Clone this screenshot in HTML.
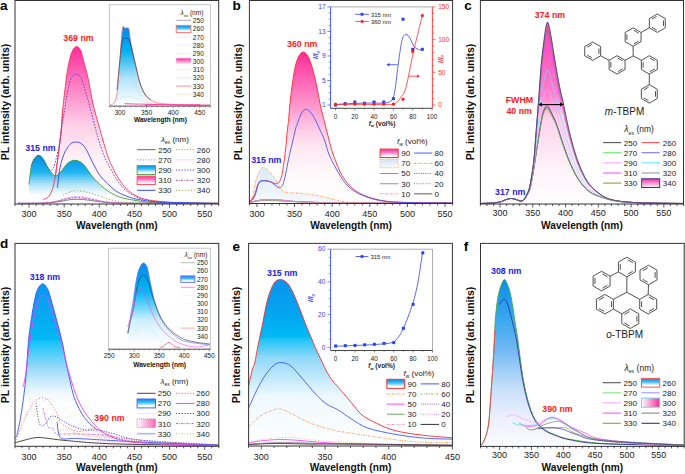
<!DOCTYPE html>
<html><head><meta charset="utf-8"><style>
html,body{margin:0;padding:0;background:#fff;width:685px;height:474px;overflow:hidden}
svg{display:block}
</style></head><body>
<svg width="685" height="474" viewBox="0 0 685 474">
<defs><linearGradient id="g1" x1="0" y1="46.6" x2="0" y2="204" gradientUnits="userSpaceOnUse"><stop offset="0" stop-color="#ff2d9b"/><stop offset="0.3" stop-color="#ff90cc"/><stop offset="0.5" stop-color="#ffd0e8"/><stop offset="0.7" stop-color="#fff0f7"/><stop offset="1" stop-color="#ffffff"/></linearGradient><linearGradient id="g2" x1="0" y1="155.3" x2="0" y2="204" gradientUnits="userSpaceOnUse"><stop offset="0" stop-color="#0090e6"/><stop offset="0.35" stop-color="#20b4f0"/><stop offset="0.58" stop-color="#a8e0f8"/><stop offset="0.82" stop-color="#ffffff"/><stop offset="1" stop-color="#ffffff"/></linearGradient><linearGradient id="g3" x1="0" y1="0" x2="0" y2="1"><stop offset="0" stop-color="#0090e6"/><stop offset="0.4" stop-color="#40c0f4"/><stop offset="0.8" stop-color="#ffffff"/></linearGradient><linearGradient id="g4" x1="0" y1="0" x2="0" y2="1"><stop offset="0" stop-color="#ff2d9b"/><stop offset="0.4" stop-color="#ff80c4"/><stop offset="0.85" stop-color="#ffffff"/></linearGradient><linearGradient id="g5" x1="0" y1="27" x2="0" y2="105.5" gradientUnits="userSpaceOnUse"><stop offset="0" stop-color="#0088f0"/><stop offset="0.3" stop-color="#00b0f0"/><stop offset="0.65" stop-color="#b0e4fa"/><stop offset="1" stop-color="#ffffff"/></linearGradient><linearGradient id="g6" x1="0" y1="0" x2="0" y2="1"><stop offset="0" stop-color="#0090e6"/><stop offset="0.4" stop-color="#40c0f4"/><stop offset="0.75" stop-color="#ffffff"/></linearGradient><linearGradient id="g7" x1="0" y1="0" x2="0" y2="1"><stop offset="0" stop-color="#ff2d9b"/><stop offset="0.5" stop-color="#ff90cc"/><stop offset="1" stop-color="#ffffff"/></linearGradient><linearGradient id="g8" x1="0" y1="52" x2="0" y2="203.5" gradientUnits="userSpaceOnUse"><stop offset="0" stop-color="#ff2d9b"/><stop offset="0.38" stop-color="#ff9fd0"/><stop offset="0.5" stop-color="#ffc8e4"/><stop offset="0.62" stop-color="#ffe6f2"/><stop offset="0.8" stop-color="#fff8fb"/><stop offset="1" stop-color="#ffffff"/></linearGradient><linearGradient id="g9" x1="0" y1="168" x2="0" y2="203" gradientUnits="userSpaceOnUse"><stop offset="0" stop-color="#dceaf8"/><stop offset="1" stop-color="#f6f9fd"/></linearGradient><linearGradient id="g10" x1="0" y1="0" x2="0" y2="1"><stop offset="0" stop-color="#ff2d9b"/><stop offset="0.4" stop-color="#ff80c4"/><stop offset="0.85" stop-color="#ffffff"/></linearGradient><linearGradient id="g11" x1="0" y1="0" x2="0" y2="1"><stop offset="0" stop-color="#d0e2f5"/><stop offset="1" stop-color="#f8fbff"/></linearGradient><linearGradient id="g12" x1="0" y1="22" x2="0" y2="204" gradientUnits="userSpaceOnUse"><stop offset="0" stop-color="#ff3cb4"/><stop offset="0.4" stop-color="#ff80d0"/><stop offset="0.52" stop-color="#ffd0ec"/><stop offset="0.78" stop-color="#fff0f8"/><stop offset="1" stop-color="#ffffff"/></linearGradient><linearGradient id="g13" x1="0" y1="0" x2="0" y2="1"><stop offset="0" stop-color="#ff2d9b"/><stop offset="0.4" stop-color="#ff80c4"/><stop offset="1" stop-color="#ffffff"/></linearGradient><linearGradient id="g14" x1="0" y1="283.8" x2="0" y2="446" gradientUnits="userSpaceOnUse"><stop offset="0" stop-color="#0a96ee"/><stop offset="0.34" stop-color="#00b8f4"/><stop offset="0.36" stop-color="#18c4f8"/><stop offset="0.53" stop-color="#a0dcf8"/><stop offset="0.67" stop-color="#eef8ff"/><stop offset="0.74" stop-color="#ffffff"/><stop offset="1" stop-color="#ffffff"/></linearGradient><linearGradient id="g15" x1="0" y1="0" x2="1" y2="0"><stop offset="0" stop-color="#ffffff"/><stop offset="1" stop-color="#ffc8e6"/></linearGradient><linearGradient id="g16" x1="0" y1="0" x2="0" y2="1"><stop offset="0" stop-color="#0a88e8"/><stop offset="0.4" stop-color="#40c0f4"/><stop offset="0.78" stop-color="#ffffff"/></linearGradient><linearGradient id="g17" x1="0" y1="0" x2="1" y2="0"><stop offset="0" stop-color="#ffffff"/><stop offset="1" stop-color="#ff66bb"/></linearGradient><linearGradient id="g18" x1="0" y1="263" x2="0" y2="345" gradientUnits="userSpaceOnUse"><stop offset="0" stop-color="#0a88e8"/><stop offset="0.35" stop-color="#00b8f5"/><stop offset="0.7" stop-color="#d0effc"/><stop offset="1" stop-color="#ffffff"/></linearGradient><linearGradient id="g19" x1="0" y1="0" x2="0" y2="1"><stop offset="0" stop-color="#0a88e8"/><stop offset="0.4" stop-color="#40c0f4"/><stop offset="0.78" stop-color="#ffffff"/></linearGradient><linearGradient id="g20" x1="0" y1="279.5" x2="0" y2="446" gradientUnits="userSpaceOnUse"><stop offset="0" stop-color="#0a94ec"/><stop offset="0.2" stop-color="#04a4f0"/><stop offset="0.34" stop-color="#00b8f4"/><stop offset="0.36" stop-color="#20c4f8"/><stop offset="0.47" stop-color="#90d8f8"/><stop offset="0.7" stop-color="#eef8ff"/><stop offset="1" stop-color="#ffffff"/></linearGradient><linearGradient id="g21" x1="0" y1="0" x2="0" y2="1"><stop offset="0" stop-color="#0a88e8"/><stop offset="0.4" stop-color="#40c0f4"/><stop offset="0.78" stop-color="#ffffff"/></linearGradient><linearGradient id="g22" x1="0" y1="279.4" x2="0" y2="446" gradientUnits="userSpaceOnUse"><stop offset="0" stop-color="#0a8ee8"/><stop offset="0.24" stop-color="#3aa8f0"/><stop offset="0.42" stop-color="#70b8f2"/><stop offset="0.66" stop-color="#c8e0fa"/><stop offset="0.84" stop-color="#eef0ff"/><stop offset="1" stop-color="#fafaff"/></linearGradient><linearGradient id="g23" x1="0" y1="0" x2="0" y2="1"><stop offset="0" stop-color="#0a88e8"/><stop offset="0.4" stop-color="#40c0f4"/><stop offset="0.78" stop-color="#ffffff"/></linearGradient><linearGradient id="g24" x1="0" y1="0" x2="1" y2="0"><stop offset="0" stop-color="#ffffff"/><stop offset="1" stop-color="#ff2d9b"/></linearGradient></defs>
<path d="M43.2 199.6 C44.12 199.08 47.12 198.35 48.7 196.5 C50.28 194.65 51.63 191.67 52.7 188.5 C53.77 185.33 54.32 181.98 55.1 177.5 C55.88 173.02 56.62 167.4 57.4 161.6 C58.18 155.8 59.12 148.47 59.8 142.7 C60.48 136.93 61.02 132.45 61.5 127 C61.98 121.55 62.33 114.48 62.7 110 C63.07 105.52 63.27 104.03 63.7 100.1 C64.13 96.17 64.77 90.8 65.3 86.4 C65.83 82 66.2 78.1 66.9 73.7 C67.6 69.3 68.57 63.87 69.5 60 C70.43 56.13 71.32 52.73 72.5 50.5 C73.68 48.27 75.27 46.68 76.6 46.6 C77.93 46.52 79.37 47.77 80.5 50 C81.63 52.23 82.03 54.82 83.4 60 C84.77 65.18 87.07 73.6 88.7 81.1 C90.33 88.6 91.28 96.8 93.2 105 C95.12 113.2 97.83 121.97 100.2 130.3 C102.57 138.63 105.32 148.77 107.4 155 C109.48 161.23 110.77 163.65 112.7 167.7 C114.63 171.75 116.72 175.78 119 179.3 C121.28 182.82 123.77 186.17 126.4 188.8 C129.03 191.43 131.63 193.35 134.8 195.1 C137.97 196.85 141.2 198.25 145.4 199.3 C149.6 200.35 154.23 200.78 160 201.4 C165.77 202.02 170.25 202.65 180 203 C189.75 203.35 212.08 203.42 218.5 203.5 L218.5 204 L43.2 204 Z" fill="url(#g1)" stroke="none"/>
<path d="M43.2 199.6 C44.12 199.08 47.12 198.35 48.7 196.5 C50.28 194.65 51.63 191.67 52.7 188.5 C53.77 185.33 54.32 181.98 55.1 177.5 C55.88 173.02 56.62 167.4 57.4 161.6 C58.18 155.8 59.12 148.47 59.8 142.7 C60.48 136.93 61.02 132.45 61.5 127 C61.98 121.55 62.33 114.48 62.7 110 C63.07 105.52 63.27 104.03 63.7 100.1 C64.13 96.17 64.77 90.8 65.3 86.4 C65.83 82 66.2 78.1 66.9 73.7 C67.6 69.3 68.57 63.87 69.5 60 C70.43 56.13 71.32 52.73 72.5 50.5 C73.68 48.27 75.27 46.68 76.6 46.6 C77.93 46.52 79.37 47.77 80.5 50 C81.63 52.23 82.03 54.82 83.4 60 C84.77 65.18 87.07 73.6 88.7 81.1 C90.33 88.6 91.28 96.8 93.2 105 C95.12 113.2 97.83 121.97 100.2 130.3 C102.57 138.63 105.32 148.77 107.4 155 C109.48 161.23 110.77 163.65 112.7 167.7 C114.63 171.75 116.72 175.78 119 179.3 C121.28 182.82 123.77 186.17 126.4 188.8 C129.03 191.43 131.63 193.35 134.8 195.1 C137.97 196.85 141.2 198.25 145.4 199.3 C149.6 200.35 154.23 200.78 160 201.4 C165.77 202.02 170.25 202.65 180 203 C189.75 203.35 212.08 203.42 218.5 203.5" fill="none" stroke="#ff3355" stroke-width="0.9"/>
<path d="M29 184.6 C29.38 181.57 30.38 170.75 31.3 166.4 C32.22 162.05 33.18 160.35 34.5 158.5 C35.82 156.65 37.62 155.05 39.2 155.3 C40.78 155.55 42.42 157.75 44 160 C45.58 162.25 46.85 166.15 48.7 168.8 C50.55 171.45 52.98 175.52 55.1 175.9 C57.22 176.28 59.3 173.22 61.4 171.1 C63.5 168.98 65.4 165 67.7 163.2 C70 161.4 72.58 160.12 75.2 160.3 C77.82 160.48 80.48 161.5 83.4 164.3 C86.32 167.1 89.93 173.73 92.7 177.1 C95.47 180.47 97.73 182.38 100 184.5 C102.27 186.62 103.67 187.95 106.3 189.8 C108.93 191.65 112.45 194.1 115.8 195.6 C119.15 197.1 122 197.83 126.4 198.8 C130.8 199.77 136.6 200.73 142.2 201.4 C147.8 202.07 147.28 202.45 160 202.8 C172.72 203.15 208.75 203.38 218.5 203.5 L218.5 204 L29 204 Z" fill="url(#g2)" stroke="none"/>
<path d="M29 184.6 C29.38 181.57 30.38 170.75 31.3 166.4 C32.22 162.05 33.18 160.35 34.5 158.5 C35.82 156.65 37.62 155.05 39.2 155.3 C40.78 155.55 42.42 157.75 44 160 C45.58 162.25 46.85 166.15 48.7 168.8 C50.55 171.45 52.98 175.52 55.1 175.9 C57.22 176.28 59.3 173.22 61.4 171.1 C63.5 168.98 65.4 165 67.7 163.2 C70 161.4 72.58 160.12 75.2 160.3 C77.82 160.48 80.48 161.5 83.4 164.3 C86.32 167.1 89.93 173.73 92.7 177.1 C95.47 180.47 97.73 182.38 100 184.5 C102.27 186.62 103.67 187.95 106.3 189.8 C108.93 191.65 112.45 194.1 115.8 195.6 C119.15 197.1 122 197.83 126.4 198.8 C130.8 199.77 136.6 200.73 142.2 201.4 C147.8 202.07 147.28 202.45 160 202.8 C172.72 203.15 208.75 203.38 218.5 203.5" fill="none" stroke="#3a9a3a" stroke-width="0.9"/>
<path d="M43.2 199.6 C44.12 199.08 47.12 198.35 48.7 196.5 C50.28 194.65 51.63 191.67 52.7 188.5 C53.77 185.33 54.32 181.98 55.1 177.5 C55.88 173.02 56.62 167.4 57.4 161.6 C58.18 155.8 59.12 148.47 59.8 142.7 C60.48 136.93 61.02 132.45 61.5 127 C61.98 121.55 62.5 112.83 62.7 110" fill="none" stroke="#ff3355" stroke-width="0.9" stroke-opacity="1"/>
<path d="M18 203.3 L20 203.3 L22 203.3 L24 203.3 L26 203.3 L28 203.29 L30 203.29 L32 203.28 L34 203.27 L36 203.26 L38 203.23 L40 203.2 L42 203.15 L44 203.09 L46 203 L48 202.88 L50 202.73 L52 202.54 L54 202.32 L56 202.05 L58 201.75 L60 201.42 L62 201.07 L64 200.71 L66 200.35 L68 200.03 L70 199.74 L72 199.52 L74 199.37 L76 199.3 L78 199.32 L80 199.38 L82 199.5 L84 199.67 L86 199.88 L88 200.12 L90 200.38 L92 200.66 L94 200.95 L96 201.23 L98 201.51 L100 201.77 L102 202.01 L104 202.22 L106 202.42 L108 202.59 L110 202.73 L112 202.85 L114 202.95 L116 203.03 L118 203.1 L120 203.15 L122 203.19 L124 203.22 L126 203.24 L128 203.26 L130 203.27 L132 203.28 L134 203.29 L136 203.29 L138 203.29 L140 203.3 L142 203.3 L144 203.3 L146 203.3 L148 203.3 L150 203.3 L152 203.3 L154 203.3 L156 203.3 L158 203.3 L160 203.3 L162 203.3 L164 203.3 L166 203.3 L168 203.3 L170 203.3 L172 203.3 L174 203.3 L176 203.3 L178 203.3 L180 203.3 L182 203.3 L184 203.3 L186 203.3 L188 203.3 L190 203.3 L192 203.3 L194 203.3 L196 203.3 L198 203.3 L200 203.3 L202 203.3 L204 203.3 L206 203.3 L208 203.3 L210 203.3 L212 203.3 L214 203.3 L216 203.3 L218 203.3" fill="none" stroke="#666" stroke-width="0.8"/>
<path d="M18 203.3 L20 203.3 L22 203.3 L24 203.3 L26 203.3 L28 203.29 L30 203.29 L32 203.28 L34 203.26 L36 203.24 L38 203.21 L40 203.16 L42 203.1 L44 203.01 L46 202.88 L48 202.72 L50 202.51 L52 202.26 L54 201.95 L56 201.58 L58 201.17 L60 200.71 L62 200.23 L64 199.73 L66 199.25 L68 198.8 L70 198.41 L72 198.1 L74 197.89 L76 197.8 L78 197.82 L80 197.92 L82 198.08 L84 198.31 L86 198.6 L88 198.93 L90 199.29 L92 199.68 L94 200.07 L96 200.46 L98 200.83 L100 201.19 L102 201.52 L104 201.82 L106 202.09 L108 202.32 L110 202.52 L112 202.68 L114 202.82 L116 202.93 L118 203.02 L120 203.09 L122 203.15 L124 203.19 L126 203.22 L128 203.24 L130 203.26 L132 203.27 L134 203.28 L136 203.29 L138 203.29 L140 203.29 L142 203.3 L144 203.3 L146 203.3 L148 203.3 L150 203.3 L152 203.3 L154 203.3 L156 203.3 L158 203.3 L160 203.3 L162 203.3 L164 203.3 L166 203.3 L168 203.3 L170 203.3 L172 203.3 L174 203.3 L176 203.3 L178 203.3 L180 203.3 L182 203.3 L184 203.3 L186 203.3 L188 203.3 L190 203.3 L192 203.3 L194 203.3 L196 203.3 L198 203.3 L200 203.3 L202 203.3 L204 203.3 L206 203.3 L208 203.3 L210 203.3 L212 203.3 L214 203.3 L216 203.3 L218 203.3" fill="none" stroke="#aa44aa" stroke-width="0.8" stroke-dasharray="2 1 0.7 1"/>
<path d="M18 203.3 L20 203.3 L22 203.3 L24 203.3 L26 203.29 L28 203.29 L30 203.28 L32 203.27 L34 203.25 L36 203.23 L38 203.19 L40 203.13 L42 203.05 L44 202.94 L46 202.78 L48 202.58 L50 202.33 L52 202.01 L54 201.63 L56 201.18 L58 200.67 L60 200.1 L62 199.5 L64 198.89 L66 198.29 L68 197.73 L70 197.25 L72 196.87 L74 196.62 L76 196.5 L78 196.53 L80 196.64 L82 196.85 L84 197.13 L86 197.49 L88 197.9 L90 198.34 L92 198.82 L94 199.3 L96 199.79 L98 200.25 L100 200.69 L102 201.1 L104 201.47 L106 201.8 L108 202.09 L110 202.33 L112 202.54 L114 202.71 L116 202.85 L118 202.96 L120 203.05 L122 203.11 L124 203.16 L126 203.2 L128 203.23 L130 203.25 L132 203.27 L134 203.28 L136 203.29 L138 203.29 L140 203.29 L142 203.3 L144 203.3 L146 203.3 L148 203.3 L150 203.3 L152 203.3 L154 203.3 L156 203.3 L158 203.3 L160 203.3 L162 203.3 L164 203.3 L166 203.3 L168 203.3 L170 203.3 L172 203.3 L174 203.3 L176 203.3 L178 203.3 L180 203.3 L182 203.3 L184 203.3 L186 203.3 L188 203.3 L190 203.3 L192 203.3 L194 203.3 L196 203.3 L198 203.3 L200 203.3 L202 203.3 L204 203.3 L206 203.3 L208 203.3 L210 203.3 L212 203.3 L214 203.3 L216 203.3 L218 203.3" fill="none" stroke="#ff88ff" stroke-width="0.8" stroke-dasharray="1.2 1.5"/>
<path d="M18 203.3 L20 203.3 L22 203.3 L24 203.3 L26 203.29 L28 203.29 L30 203.28 L32 203.28 L34 203.26 L36 203.24 L38 203.2 L40 203.15 L42 203.08 L44 202.98 L46 202.84 L48 202.67 L50 202.44 L52 202.16 L54 201.82 L56 201.43 L58 200.98 L60 200.48 L62 199.95 L64 199.41 L66 198.88 L68 198.39 L70 197.96 L72 197.63 L74 197.4 L76 197.3 L78 197.32 L80 197.43 L82 197.61 L84 197.86 L86 198.17 L88 198.53 L90 198.93 L92 199.35 L94 199.77 L96 200.2 L98 200.61 L100 201 L102 201.36 L104 201.69 L106 201.98 L108 202.23 L110 202.44 L112 202.63 L114 202.78 L116 202.9 L118 203 L120 203.08 L122 203.14 L124 203.18 L126 203.21 L128 203.24 L130 203.26 L132 203.27 L134 203.28 L136 203.29 L138 203.29 L140 203.29 L142 203.3 L144 203.3 L146 203.3 L148 203.3 L150 203.3 L152 203.3 L154 203.3 L156 203.3 L158 203.3 L160 203.3 L162 203.3 L164 203.3 L166 203.3 L168 203.3 L170 203.3 L172 203.3 L174 203.3 L176 203.3 L178 203.3 L180 203.3 L182 203.3 L184 203.3 L186 203.3 L188 203.3 L190 203.3 L192 203.3 L194 203.3 L196 203.3 L198 203.3 L200 203.3 L202 203.3 L204 203.3 L206 203.3 L208 203.3 L210 203.3 L212 203.3 L214 203.3 L216 203.3 L218 203.3" fill="none" stroke="#ff5555" stroke-width="0.8" stroke-dasharray="1.2 2.2"/>
<path d="M18 203.3 L20 203.3 L22 203.3 L24 203.3 L26 203.29 L28 203.29 L30 203.28 L32 203.27 L34 203.26 L36 203.23 L38 203.2 L40 203.14 L42 203.07 L44 202.96 L46 202.82 L48 202.64 L50 202.4 L52 202.11 L54 201.75 L56 201.33 L58 200.86 L60 200.34 L62 199.78 L64 199.21 L66 198.66 L68 198.14 L70 197.7 L72 197.34 L74 197.11 L76 197 L78 197.02 L80 197.13 L82 197.32 L84 197.59 L86 197.91 L88 198.29 L90 198.71 L92 199.15 L94 199.6 L96 200.04 L98 200.48 L100 200.88 L102 201.26 L104 201.61 L106 201.91 L108 202.17 L110 202.4 L112 202.59 L114 202.75 L116 202.88 L118 202.98 L120 203.06 L122 203.13 L124 203.17 L126 203.21 L128 203.24 L130 203.26 L132 203.27 L134 203.28 L136 203.29 L138 203.29 L140 203.29 L142 203.3 L144 203.3 L146 203.3 L148 203.3 L150 203.3 L152 203.3 L154 203.3 L156 203.3 L158 203.3 L160 203.3 L162 203.3 L164 203.3 L166 203.3 L168 203.3 L170 203.3 L172 203.3 L174 203.3 L176 203.3 L178 203.3 L180 203.3 L182 203.3 L184 203.3 L186 203.3 L188 203.3 L190 203.3 L192 203.3 L194 203.3 L196 203.3 L198 203.3 L200 203.3 L202 203.3 L204 203.3 L206 203.3 L208 203.3 L210 203.3 L212 203.3 L214 203.3 L216 203.3 L218 203.3" fill="none" stroke="#6666ff" stroke-width="0.8" stroke-dasharray="1.2 2.4"/>
<path d="M63 195 C64.17 194.5 67.58 192.72 70 192 C72.42 191.28 74.5 190.62 77.5 190.7 C80.5 190.78 84.25 191.62 88 192.5 C91.75 193.38 95.72 194.67 100 196 C104.28 197.33 107.03 199.33 113.7 200.5 C120.37 201.67 122.62 202.5 140 203 C157.38 203.5 205 203.42 218 203.5" fill="none" stroke="#9a9a40" stroke-width="0.9" stroke-dasharray="1.2 1.8" stroke-opacity="1"/>
<path d="M31.5 166 C32.08 164.62 33.75 159.37 35 157.7 C36.25 156.03 37.4 154.88 39 156 C40.6 157.12 42.68 162.02 44.6 164.4 C46.52 166.78 49.02 169.82 50.5 170.3 C51.98 170.78 52.52 169.4 53.5 167.3 C54.48 165.2 55.55 161.02 56.4 157.7 C57.25 154.38 57.98 150.35 58.6 147.4 C59.22 144.45 59.45 144.23 60.1 140 C60.75 135.77 61.72 127 62.5 122 C63.28 117 64.15 114 64.8 110 C65.45 106 65.78 101.77 66.4 98 C67.02 94.23 67.63 90.83 68.5 87.4 C69.37 83.97 70.28 79.6 71.6 77.4 C72.92 75.2 74.82 74.12 76.4 74.2 C77.98 74.28 79.6 75 81.1 77.9 C82.6 80.8 84.02 87.08 85.4 91.6 C86.78 96.12 87.35 97.5 89.4 105 C91.45 112.5 95.23 128.1 97.7 136.6 C100.17 145.1 102.07 150.65 104.2 156 C106.33 161.35 108.22 164.47 110.5 168.7 C112.78 172.93 115.25 177.7 117.9 181.4 C120.55 185.1 123.23 188.27 126.4 190.9 C129.57 193.53 133.38 195.62 136.9 197.2 C140.42 198.78 142.82 199.52 147.5 200.4 C152.18 201.28 153.25 201.98 165 202.5 C176.75 203.02 209.17 203.33 218 203.5" fill="none" stroke="#5a3fb0" stroke-width="0.9" stroke-dasharray="1.6 1.4" stroke-opacity="1"/>
<path d="M57.4 187.8 C57.83 184.47 58.9 173.43 60 167.8 C61.1 162.17 62.63 157.52 64 154 C65.37 150.48 66.87 148.57 68.2 146.7 C69.53 144.83 70.57 143.57 72 142.8 C73.43 142.03 75.3 141.98 76.8 142.1 C78.3 142.22 79.52 142.43 81 143.5 C82.48 144.57 83.55 144.92 85.7 148.5 C87.85 152.08 91.52 160.48 93.9 165 C96.28 169.52 97.75 172.52 100 175.6 C102.25 178.68 104.77 180.95 107.4 183.5 C110.03 186.05 112.63 188.8 115.8 190.9 C118.97 193 122.35 194.62 126.4 196.1 C130.45 197.58 134.5 198.82 140.1 199.8 C145.7 200.78 147.02 201.38 160 202 C172.98 202.62 208.33 203.25 218 203.5" fill="none" stroke="#3344ff" stroke-width="0.9" stroke-opacity="1"/>
<text x="78.5" y="41.3" font-size="8.8" font-weight="bold" text-anchor="middle" fill="#ff1a1a" font-family="Liberation Sans, sans-serif">369 nm</text>
<text x="40.5" y="150.6" font-size="8.8" font-weight="bold" text-anchor="middle" fill="#2222ee" font-family="Liberation Sans, sans-serif">315 nm</text>
<text x="161" y="141.5" font-size="8" fill="#222" font-family="Liberation Sans, sans-serif"><tspan font-style="italic">λ</tspan><tspan font-size="4.96" dy="2.00">ex</tspan><tspan dy="-2.00"> (nm)</tspan></text>
<path d="M137.1 149.7H155.5" stroke="#666" stroke-width="1"/>
<text x="158.2" y="152.6" font-size="8" text-anchor="start" fill="#222" font-family="Liberation Sans, sans-serif">250</text>
<path d="M175.9 149.7H194.6" stroke="#ff6666" stroke-width="1" stroke-dasharray="1.2 1.6"/>
<text x="196.8" y="152.6" font-size="8" text-anchor="start" fill="#222" font-family="Liberation Sans, sans-serif">260</text>
<path d="M137.1 159.9H155.5" stroke="#8888ff" stroke-width="1" stroke-dasharray="1.2 1.6"/>
<text x="158.2" y="162.8" font-size="8" text-anchor="start" fill="#222" font-family="Liberation Sans, sans-serif">270</text>
<path d="M175.9 159.9H194.6" stroke="#ff99ff" stroke-width="1" stroke-dasharray="1.2 1.6"/>
<text x="196.8" y="162.8" font-size="8" text-anchor="start" fill="#222" font-family="Liberation Sans, sans-serif">280</text>
<rect x="137.1" y="165.6" width="18.4" height="8.9" fill="url(#g3)" stroke="#55aa55" stroke-width="1"/>
<text x="158.2" y="173" font-size="8" text-anchor="start" fill="#222" font-family="Liberation Sans, sans-serif">290</text>
<path d="M175.9 170.1H194.6" stroke="#5a3fb0" stroke-width="1" stroke-dasharray="1.2 1.6"/>
<text x="196.8" y="173" font-size="8" text-anchor="start" fill="#222" font-family="Liberation Sans, sans-serif">300</text>
<rect x="137.1" y="176.1" width="18.4" height="8.4" fill="url(#g4)" stroke="#ff5566" stroke-width="1"/>
<text x="158.2" y="183.2" font-size="8" text-anchor="start" fill="#222" font-family="Liberation Sans, sans-serif">310</text>
<path d="M175.9 180.3H194.6" stroke="#aa44aa" stroke-width="1" stroke-dasharray="2 1.2 0.8 1.2"/>
<text x="196.8" y="183.2" font-size="8" text-anchor="start" fill="#222" font-family="Liberation Sans, sans-serif">320</text>
<path d="M137.1 190.3H155.5" stroke="#3344ff" stroke-width="1"/>
<text x="158.2" y="193.2" font-size="8" text-anchor="start" fill="#222" font-family="Liberation Sans, sans-serif">330</text>
<path d="M175.9 190.3H194.6" stroke="#9a9a40" stroke-width="1" stroke-dasharray="1.2 1.8"/>
<text x="196.8" y="193.2" font-size="8" text-anchor="start" fill="#222" font-family="Liberation Sans, sans-serif">340</text>
<rect x="109.3" y="4.7" width="101.2" height="101.4" fill="#fff" stroke="#bbb" stroke-width="0.8"/>
<path d="M109.5 104.9 C110.02 104.78 111.53 105.18 112.6 104.2 C113.67 103.22 115.12 101.13 115.9 99 C116.68 96.87 116.92 94.57 117.3 91.4 C117.68 88.23 117.73 85.57 118.2 80 C118.67 74.43 119.57 64.83 120.1 58 C120.63 51.17 120.97 44.07 121.4 39 C121.83 33.93 122.32 29.6 122.7 27.6 C123.08 25.6 123.28 26.9 123.7 27 C124.12 27.1 124.53 28.07 125.2 28.2 C125.87 28.33 127.07 27.58 127.7 27.8 C128.33 28.02 128.57 27.63 129 29.5 C129.43 31.37 129.67 35.32 130.3 39 C130.93 42.68 131.97 47.6 132.8 51.6 C133.63 55.6 134.25 58.27 135.3 63 C136.35 67.73 137.98 75.75 139.1 80 C140.22 84.25 140.88 85.92 142 88.5 C143.12 91.08 144.37 93.6 145.8 95.5 C147.23 97.4 148.7 98.68 150.6 99.9 C152.5 101.12 154.8 102.08 157.2 102.8 C159.6 103.52 160.37 103.83 165 104.2 C169.63 104.57 177.5 104.83 185 105 C192.5 105.17 205.83 105.17 210 105.2 L210 105.5 L109.5 105.5 Z" fill="url(#g5)" stroke="none"/>
<path d="M109.5 104.9 C110.02 104.78 111.53 105.18 112.6 104.2 C113.67 103.22 115.12 101.13 115.9 99 C116.68 96.87 116.92 94.57 117.3 91.4 C117.68 88.23 117.73 85.57 118.2 80 C118.67 74.43 119.57 64.83 120.1 58 C120.63 51.17 120.97 44.07 121.4 39 C121.83 33.93 122.32 29.6 122.7 27.6 C123.08 25.6 123.28 26.9 123.7 27 C124.12 27.1 124.53 28.07 125.2 28.2 C125.87 28.33 127.07 27.58 127.7 27.8 C128.33 28.02 128.57 27.63 129 29.5 C129.43 31.37 129.67 35.32 130.3 39 C130.93 42.68 131.97 47.6 132.8 51.6 C133.63 55.6 134.25 58.27 135.3 63 C136.35 67.73 137.98 75.75 139.1 80 C140.22 84.25 140.88 85.92 142 88.5 C143.12 91.08 144.37 93.6 145.8 95.5 C147.23 97.4 148.7 98.68 150.6 99.9 C152.5 101.12 154.8 102.08 157.2 102.8 C159.6 103.52 160.37 103.83 165 104.2 C169.63 104.57 177.5 104.83 185 105 C192.5 105.17 205.83 105.17 210 105.2" fill="none" stroke="#ee6666" stroke-width="0.7"/>
<path d="M117 90 C117.42 85.67 118.77 71.45 119.5 64 C120.23 56.55 120.77 49.53 121.4 45.3 C122.03 41.07 122.13 39.65 123.3 38.6 C124.47 37.55 127.13 37.88 128.4 39 C129.67 40.12 130.13 42.63 130.9 45.3 C131.67 47.97 132.27 51.83 133 55 C133.73 58.17 134.28 60.13 135.3 64.3 C136.32 68.47 137.98 75.97 139.1 80 C140.22 84.03 140.88 85.92 142 88.5 C143.12 91.08 144.37 93.6 145.8 95.5 C147.23 97.4 149.8 99.17 150.6 99.9" fill="none" stroke="#333" stroke-width="0.6" stroke-opacity="1"/>
<path d="M116 100 C116.67 96.67 118.47 85.1 120 80 C121.53 74.9 123.53 70.4 125.2 69.4 C126.87 68.4 128.2 71.23 130 74 C131.8 76.77 134 82.17 136 86 C138 89.83 139.67 94.25 142 97 C144.33 99.75 148.67 101.58 150 102.5" fill="none" stroke="#c9a0e8" stroke-width="0.5" stroke-dasharray="0.8 1" stroke-opacity="1"/>
<path d="M113 104 C114 103.17 116.7 100.32 119 99 C121.3 97.68 124.13 96.27 126.8 96.1 C129.47 95.93 131.97 97.02 135 98 C138.03 98.98 141.67 101 145 102 C148.33 103 153.33 103.67 155 104" fill="none" stroke="#9ccc9c" stroke-width="0.5" stroke-dasharray="0.8 1" stroke-opacity="1"/>
<path d="M124.5 103.7 C127.08 103.78 134.08 104.05 140 104.2 C145.92 104.35 152.5 104.47 160 104.6 C167.5 104.73 176.67 104.93 185 105 C193.33 105.07 205.83 105 210 105" fill="none" stroke="#ff70c0" stroke-width="1.2" stroke-opacity="1"/>
<path d="M145 105 C147.5 104.88 155 104.37 160 104.3 C165 104.23 168.33 104.48 175 104.6 C181.67 104.72 195.83 104.93 200 105" fill="none" stroke="#ff4da6" stroke-width="1.3" stroke-opacity="1"/>
<path d="M109.3 106.1v1.3 M114.63 106.1v1.3 M119.95 106.1v2.2 M125.28 106.1v1.3 M130.61 106.1v1.3 M135.93 106.1v1.3 M141.26 106.1v1.3 M146.58 106.1v2.2 M151.91 106.1v1.3 M157.24 106.1v1.3 M162.56 106.1v1.3 M167.89 106.1v1.3 M173.22 106.1v2.2 M178.54 106.1v1.3 M183.87 106.1v1.3 M189.19 106.1v1.3 M194.52 106.1v1.3 M199.85 106.1v2.2 M205.17 106.1v1.3 M210.5 106.1v1.3" stroke="#555" stroke-width="0.6"/>
<path d="M109.3 106.1H210.5" stroke="#444" stroke-width="0.8"/>
<text x="119.95" y="114.7" font-size="6.6" text-anchor="middle" fill="#222" font-family="Liberation Sans, sans-serif">300</text>
<text x="146.58" y="114.7" font-size="6.6" text-anchor="middle" fill="#222" font-family="Liberation Sans, sans-serif">350</text>
<text x="173.22" y="114.7" font-size="6.6" text-anchor="middle" fill="#222" font-family="Liberation Sans, sans-serif">400</text>
<text x="199.85" y="114.7" font-size="6.6" text-anchor="middle" fill="#222" font-family="Liberation Sans, sans-serif">450</text>
<text x="160.4" y="121.8" font-size="6.6" font-weight="bold" text-anchor="middle" fill="#111" font-family="Liberation Sans, sans-serif">Wavelength (nm)</text>
<text x="180.5" y="15" font-size="6.6" fill="#222" font-family="Liberation Sans, sans-serif"><tspan font-style="italic">λ</tspan><tspan font-size="4.09" dy="1.65">ex</tspan><tspan dy="-1.65"> (nm)</tspan></text>
<text x="192.8" y="22.7" font-size="6.6" text-anchor="start" fill="#222" font-family="Liberation Sans, sans-serif">250</text>
<path d="M176.2 20.3H190.9" stroke="#888" stroke-width="0.7"/>
<text x="192.8" y="31.3" font-size="6.6" text-anchor="start" fill="#222" font-family="Liberation Sans, sans-serif">260</text>
<rect x="176.2" y="25.4" width="14.7" height="7.2" fill="url(#g6)" stroke="#ff7777" stroke-width="1"/>
<text x="192.8" y="39.5" font-size="6.6" text-anchor="start" fill="#222" font-family="Liberation Sans, sans-serif">270</text>
<path d="M176.2 37.1H190.9" stroke="#ccccff" stroke-width="0.7" stroke-dasharray="1 1"/>
<text x="192.8" y="47.7" font-size="6.6" text-anchor="start" fill="#222" font-family="Liberation Sans, sans-serif">280</text>
<path d="M176.2 45.3H190.9" stroke="#ffccff" stroke-width="0.7" stroke-dasharray="1 1"/>
<text x="192.8" y="55.8" font-size="6.6" text-anchor="start" fill="#222" font-family="Liberation Sans, sans-serif">290</text>
<path d="M176.2 53.4H190.9" stroke="#ccddcc" stroke-width="0.7" stroke-dasharray="1 1"/>
<text x="192.8" y="64" font-size="6.6" text-anchor="start" fill="#222" font-family="Liberation Sans, sans-serif">300</text>
<rect x="176.2" y="58.3" width="14.7" height="6.3" fill="url(#g7)"/>
<text x="192.8" y="72.2" font-size="6.6" text-anchor="start" fill="#222" font-family="Liberation Sans, sans-serif">310</text>
<path d="M176.2 69.8H190.9" stroke="#ccccee" stroke-width="0.7" stroke-dasharray="1 1"/>
<text x="192.8" y="80.4" font-size="6.6" text-anchor="start" fill="#222" font-family="Liberation Sans, sans-serif">320</text>
<path d="M176.2 78H190.9" stroke="#ccbbdd" stroke-width="0.7" stroke-dasharray="1 1"/>
<text x="192.8" y="88.5" font-size="6.6" text-anchor="start" fill="#222" font-family="Liberation Sans, sans-serif">330</text>
<path d="M176.2 86.1H190.9" stroke="#ffb0b8" stroke-width="1.5"/>
<text x="192.8" y="96.7" font-size="6.6" text-anchor="start" fill="#222" font-family="Liberation Sans, sans-serif">340</text>
<path d="M176.2 94.3H190.9" stroke="#cccc99" stroke-width="0.7" stroke-dasharray="1 1"/>
<path d="M249.2 202.4 C250.07 201.22 252.93 198.28 254.4 195.3 C255.87 192.32 256.67 186.9 258 184.5 C259.33 182.1 260.32 181.35 262.4 180.9 C264.48 180.45 268.1 181.35 270.5 181.8 C272.9 182.25 275 184.35 276.8 183.6 C278.6 182.85 279.97 181.93 281.3 177.3 C282.63 172.67 283.77 163.85 284.8 155.8 C285.83 147.75 286.87 134.97 287.5 129 C288.13 123.03 288.17 124.45 288.6 120 C289.03 115.55 289.43 108.62 290.1 102.3 C290.77 95.98 291.75 88 292.6 82.1 C293.45 76.2 294.22 71.12 295.2 66.9 C296.18 62.68 297.23 59.27 298.5 56.8 C299.77 54.33 301.25 52.23 302.8 52.1 C304.35 51.97 306.27 53.53 307.8 56 C309.33 58.47 310.58 62.27 312 66.9 C313.42 71.53 314.92 77.45 316.3 83.8 C317.68 90.15 318.93 98.63 320.3 105 C321.67 111.37 323.22 116.83 324.5 122 C325.78 127.17 326.75 131.17 328 136 C329.25 140.83 330.67 146.67 332 151 C333.33 155.33 334.33 157.92 336 162 C337.67 166.08 339.33 171.17 342 175.5 C344.67 179.83 348 184.55 352 188 C356 191.45 360.33 194 366 196.2 C371.67 198.4 378.63 200.13 386 201.2 C393.37 202.27 399.2 202.3 410.2 202.6 C421.2 202.9 445.03 202.93 452 203 L452 203.5 L249.2 203.5Z" fill="url(#g8)"/>
<path d="M249.5 202 C250.02 201.17 251.48 200.82 252.6 197 C253.72 193.18 254.72 183.87 256.2 179.1 C257.68 174.33 259.72 170.03 261.5 168.4 C263.28 166.77 264.8 167.82 266.9 169.3 C269 170.78 271.7 173.87 274.1 177.3 C276.5 180.73 278.92 187.35 281.3 189.9 C283.68 192.45 284.82 192 288.4 192.6 C291.98 193.2 297.42 192.9 302.8 193.5 C308.18 194.1 314.73 195.02 320.7 196.2 C326.67 197.38 333.72 199.6 338.6 200.6 C343.48 201.6 343.1 201.8 350 202.2 C356.9 202.6 363 202.87 380 203 C397 203.13 440 203 452 203 L452 203.5 L249.5 203.5Z" fill="url(#g9)"/>
<path d="M249.5 202 C250.02 201.17 251.48 200.82 252.6 197 C253.72 193.18 254.72 183.87 256.2 179.1 C257.68 174.33 259.72 170.03 261.5 168.4 C263.28 166.77 264.8 167.82 266.9 169.3 C269 170.78 271.7 173.87 274.1 177.3 C276.5 180.73 278.92 187.35 281.3 189.9 C283.68 192.45 284.82 192 288.4 192.6 C291.98 193.2 297.42 192.9 302.8 193.5 C308.18 194.1 314.73 195.02 320.7 196.2 C326.67 197.38 333.72 199.6 338.6 200.6 C343.48 201.6 343.1 201.8 350 202.2 C356.9 202.6 363 202.87 380 203 C397 203.13 440 203 452 203" fill="none" stroke="#ff9a40" stroke-width="0.9" stroke-dasharray="2 1.2 0.8 1.2" stroke-opacity="1"/>
<path d="M249.5 203 C250.58 202.67 253.42 201.42 256 201 C258.58 200.58 261 200.53 265 200.5 C269 200.47 274.17 200.58 280 200.8 C285.83 201.02 290 201.47 300 201.8 C310 202.13 314.67 202.57 340 202.8 C365.33 203.03 433.33 203.13 452 203.2" fill="none" stroke="#666" stroke-width="0.8" stroke-opacity="1"/>
<path d="M249.5 203 C250.58 202.67 253.42 201.5 256 201 C258.58 200.5 261 200.12 265 200 C269 199.88 274.17 200 280 200.3 C285.83 200.6 290 201.38 300 201.8 C310 202.22 314.67 202.57 340 202.8 C365.33 203.03 433.33 203.13 452 203.2" fill="none" stroke="#aaaa55" stroke-width="0.8" stroke-dasharray="1.5 1" stroke-opacity="1"/>
<path d="M249.5 203 C250.58 202.67 253.42 201.58 256 201 C258.58 200.42 261 199.7 265 199.5 C269 199.3 274.17 199.42 280 199.8 C285.83 200.18 290 201.3 300 201.8 C310 202.3 314.67 202.57 340 202.8 C365.33 203.03 433.33 203.13 452 203.2" fill="none" stroke="#ff44ff" stroke-width="0.8" stroke-opacity="1"/>
<path d="M249.5 203 C250.58 202.67 253.42 201.5 256 201 C258.58 200.5 261 200.12 265 200 C269 199.88 274.17 200 280 200.3 C285.83 200.6 290 201.38 300 201.8 C310 202.22 314.67 202.57 340 202.8 C365.33 203.03 433.33 203.13 452 203.2" fill="none" stroke="#8877cc" stroke-width="0.8" stroke-dasharray="1 1" stroke-opacity="1"/>
<path d="M249.5 203 C250.58 202.67 253.42 201.45 256 201 C258.58 200.55 261 200.37 265 200.3 C269 200.23 274.17 200.35 280 200.6 C285.83 200.85 290 201.43 300 201.8 C310 202.17 314.67 202.57 340 202.8 C365.33 203.03 433.33 203.13 452 203.2" fill="none" stroke="#88bb88" stroke-width="0.8" stroke-opacity="1"/>
<path d="M249.5 203 C250.58 202.67 253.42 201.53 256 201 C258.58 200.47 261 199.95 265 199.8 C269 199.65 274.17 199.77 280 200.1 C285.83 200.43 290 201.35 300 201.8 C310 202.25 314.67 202.57 340 202.8 C365.33 203.03 433.33 203.13 452 203.2" fill="none" stroke="#cc88ff" stroke-width="0.8" stroke-dasharray="1 1" stroke-opacity="1"/>
<path d="M249.5 203 C250.58 202.67 253.42 201.5 256 201 C258.58 200.5 261 200.12 265 200 C269 199.88 274.17 200 280 200.3 C285.83 200.6 290 201.38 300 201.8 C310 202.22 314.67 202.57 340 202.8 C365.33 203.03 433.33 203.13 452 203.2" fill="none" stroke="#ff88aa" stroke-width="0.8" stroke-dasharray="1.5 1" stroke-opacity="1"/>
<path d="M249.2 202.4 C250.07 201.22 252.93 198.28 254.4 195.3 C255.87 192.32 256.67 186.9 258 184.5 C259.33 182.1 260.32 181.35 262.4 180.9 C264.48 180.45 268.1 181.35 270.5 181.8 C272.9 182.25 275 184.35 276.8 183.6 C278.6 182.85 279.97 181.93 281.3 177.3 C282.63 172.67 283.77 163.85 284.8 155.8 C285.83 147.75 286.87 134.97 287.5 129 C288.13 123.03 288.17 124.45 288.6 120 C289.03 115.55 289.43 108.62 290.1 102.3 C290.77 95.98 291.75 88 292.6 82.1 C293.45 76.2 294.22 71.12 295.2 66.9 C296.18 62.68 297.23 59.27 298.5 56.8 C299.77 54.33 301.25 52.23 302.8 52.1 C304.35 51.97 306.27 53.53 307.8 56 C309.33 58.47 310.58 62.27 312 66.9 C313.42 71.53 314.92 77.45 316.3 83.8 C317.68 90.15 318.93 98.63 320.3 105 C321.67 111.37 323.22 116.83 324.5 122 C325.78 127.17 326.75 131.17 328 136 C329.25 140.83 330.67 146.67 332 151 C333.33 155.33 334.33 157.92 336 162 C337.67 166.08 339.33 171.17 342 175.5 C344.67 179.83 348 184.55 352 188 C356 191.45 360.33 194 366 196.2 C371.67 198.4 378.63 200.13 386 201.2 C393.37 202.27 399.2 202.3 410.2 202.6 C421.2 202.9 445.03 202.93 452 203" fill="none" stroke="#ff2a2a" stroke-width="0.9" stroke-opacity="1"/>
<path d="M249.2 202.4 C250.07 201.5 252.78 200.28 254.4 197 C256.02 193.72 257.42 185.43 258.9 182.7 C260.38 179.97 261.37 180.75 263.3 180.6 C265.23 180.45 267.8 180.62 270.5 181.8 C273.2 182.98 277.25 187.85 279.5 187.7 C281.75 187.55 282.37 186.22 284 180.9 C285.63 175.58 287.37 164.45 289.3 155.8 C291.23 147.15 294.33 134.13 295.6 129 C296.87 123.87 295.85 127.75 296.9 125 C297.95 122.25 300.28 115.1 301.9 112.5 C303.52 109.9 305 109.23 306.6 109.4 C308.2 109.57 309.93 111.57 311.5 113.5 C313.07 115.43 314.58 118.25 316 121 C317.42 123.75 318.62 126.92 320 130 C321.38 133.08 322.68 135.17 324.3 139.5 C325.92 143.83 327.22 150.25 329.7 156 C332.18 161.75 336.15 168.97 339.2 174 C342.25 179.03 344.52 182.83 348 186.2 C351.48 189.57 354.75 191.8 360.1 194.2 C365.45 196.6 371.75 199.2 380.1 200.6 C388.45 202 398.22 202.2 410.2 202.6 C422.18 203 445.03 202.93 452 203" fill="none" stroke="#4455ff" stroke-width="0.9" stroke-opacity="1"/>
<text x="302.2" y="46.5" font-size="8.8" font-weight="bold" text-anchor="middle" fill="#ff1a1a" font-family="Liberation Sans, sans-serif">360 nm</text>
<text x="266.3" y="163.4" font-size="8.8" font-weight="bold" text-anchor="middle" fill="#2222ee" font-family="Liberation Sans, sans-serif">315 nm</text>
<text x="397" y="144.1" font-size="8" fill="#222" font-family="Liberation Sans, sans-serif"><tspan font-style="italic">f</tspan><tspan font-size="4.96" dy="2.00" font-style="italic">w</tspan><tspan dy="-2.00"> (vol%)</tspan></text>
<rect x="380.1" y="149.1" width="18.1" height="8.4" fill="url(#g10)" stroke="#ff3333" stroke-width="1"/>
<text x="401.2" y="156" font-size="8" text-anchor="start" fill="#222" font-family="Liberation Sans, sans-serif">90</text>
<path d="M414.2 153.1H432.2" stroke="#4455ff" stroke-width="1"/>
<text x="434.6" y="156" font-size="8" text-anchor="start" fill="#222" font-family="Liberation Sans, sans-serif">80</text>
<rect x="380.1" y="159.1" width="18.1" height="8.6" fill="url(#g11)" stroke="#ffb070" stroke-width="0.8" stroke-dasharray="1.5 1"/>
<text x="401.2" y="166.2" font-size="8" text-anchor="start" fill="#222" font-family="Liberation Sans, sans-serif">70</text>
<path d="M414.2 163.3H432.2" stroke="#aaaa55" stroke-width="1" stroke-dasharray="2 1.2 0.8 1.2"/>
<text x="434.6" y="166.2" font-size="8" text-anchor="start" fill="#222" font-family="Liberation Sans, sans-serif">60</text>
<path d="M380.1 173.5H398.2" stroke="#ff44ff" stroke-width="1"/>
<text x="401.2" y="176.4" font-size="8" text-anchor="start" fill="#222" font-family="Liberation Sans, sans-serif">50</text>
<path d="M414.2 173.5H432.2" stroke="#7766cc" stroke-width="1" stroke-dasharray="1 1.2"/>
<text x="434.6" y="176.4" font-size="8" text-anchor="start" fill="#222" font-family="Liberation Sans, sans-serif">40</text>
<path d="M380.1 183.7H398.2" stroke="#88bb88" stroke-width="1.2"/>
<text x="401.2" y="186.6" font-size="8" text-anchor="start" fill="#222" font-family="Liberation Sans, sans-serif">30</text>
<path d="M414.2 183.7H432.2" stroke="#cc88ff" stroke-width="1.2" stroke-dasharray="1 1.2"/>
<text x="434.6" y="186.6" font-size="8" text-anchor="start" fill="#222" font-family="Liberation Sans, sans-serif">20</text>
<path d="M380.1 193.8H398.2" stroke="#ff88aa" stroke-width="1" stroke-dasharray="2 1.2 0.8 1.2"/>
<text x="401.2" y="196.7" font-size="8" text-anchor="start" fill="#222" font-family="Liberation Sans, sans-serif">10</text>
<path d="M414.2 193.8H432.2" stroke="#777" stroke-width="1.2"/>
<text x="434.6" y="196.7" font-size="8" text-anchor="start" fill="#222" font-family="Liberation Sans, sans-serif">0</text>
<rect x="330.6" y="6.9" width="101.79999999999995" height="101.39999999999999" fill="#fff"/>
<path d="M330.6 6.9H432.4" stroke="#aaa" stroke-width="1"/>
<path d="M330.6 6.9V108.3" stroke="#3344ee" stroke-width="0.9"/>
<path d="M432.4 6.9V108.3" stroke="#ff3030" stroke-width="0.9"/>
<path d="M330.6 108.3H432.4" stroke="#333" stroke-width="0.9"/>
<path d="M330.6 105h-3.2 M330.6 98.87h-1.8 M330.6 92.74h-1.8 M330.6 86.61h-1.8 M330.6 80.47h-3.2 M330.6 74.34h-1.8 M330.6 68.21h-1.8 M330.6 62.08h-1.8 M330.6 55.95h-3.2 M330.6 49.82h-1.8 M330.6 43.69h-1.8 M330.6 37.56h-1.8 M330.6 31.43h-3.2 M330.6 25.29h-1.8 M330.6 19.16h-1.8 M330.6 13.03h-1.8 M330.6 6.9h-3.2" stroke="#3344ee" stroke-width="0.7"/>
<path d="M432.4 105h3.2 M432.4 98.46h1.8 M432.4 91.92h1.8 M432.4 85.38h1.8 M432.4 78.84h1.8 M432.4 72.3h3.2 M432.4 65.76h1.8 M432.4 59.22h1.8 M432.4 52.68h1.8 M432.4 46.14h1.8 M432.4 39.6h3.2 M432.4 33.06h1.8 M432.4 26.52h1.8 M432.4 19.98h1.8 M432.4 13.44h1.8 M432.4 6.9h3.2" stroke="#ff3030" stroke-width="0.7"/>
<path d="M335.5 108.3v2 M345.15 108.3v1.2 M354.8 108.3v2 M364.45 108.3v1.2 M374.1 108.3v2 M383.75 108.3v1.2 M393.4 108.3v2 M403.05 108.3v1.2 M412.7 108.3v2 M422.35 108.3v1.2 M432 108.3v2" stroke="#333" stroke-width="0.6"/>
<text x="325.6" y="107.2" font-size="6.6" text-anchor="end" fill="#3344ee" font-family="Liberation Sans, sans-serif">1</text>
<text x="325.6" y="82.67" font-size="6.6" text-anchor="end" fill="#3344ee" font-family="Liberation Sans, sans-serif">5</text>
<text x="325.6" y="58.15" font-size="6.6" text-anchor="end" fill="#3344ee" font-family="Liberation Sans, sans-serif">9</text>
<text x="325.6" y="33.63" font-size="6.6" text-anchor="end" fill="#3344ee" font-family="Liberation Sans, sans-serif">13</text>
<text x="325.6" y="9.1" font-size="6.6" text-anchor="end" fill="#3344ee" font-family="Liberation Sans, sans-serif">17</text>
<text x="438.2" y="107.2" font-size="6.6" text-anchor="start" fill="#ff3030" font-family="Liberation Sans, sans-serif">0</text>
<text x="438.2" y="74.5" font-size="6.6" text-anchor="start" fill="#ff3030" font-family="Liberation Sans, sans-serif">50</text>
<text x="438.2" y="41.8" font-size="6.6" text-anchor="start" fill="#ff3030" font-family="Liberation Sans, sans-serif">100</text>
<text x="438.2" y="9.1" font-size="6.6" text-anchor="start" fill="#ff3030" font-family="Liberation Sans, sans-serif">150</text>
<text x="335.5" y="118.8" font-size="6.3" text-anchor="middle" fill="#222" font-family="Liberation Sans, sans-serif">0</text>
<text x="354.8" y="118.8" font-size="6.3" text-anchor="middle" fill="#222" font-family="Liberation Sans, sans-serif">20</text>
<text x="374.1" y="118.8" font-size="6.3" text-anchor="middle" fill="#222" font-family="Liberation Sans, sans-serif">40</text>
<text x="393.4" y="118.8" font-size="6.3" text-anchor="middle" fill="#222" font-family="Liberation Sans, sans-serif">60</text>
<text x="412.7" y="118.8" font-size="6.3" text-anchor="middle" fill="#222" font-family="Liberation Sans, sans-serif">80</text>
<text x="432" y="118.8" font-size="6.3" text-anchor="middle" fill="#222" font-family="Liberation Sans, sans-serif">100</text>
<text x="382" y="125.8" font-size="6.5" font-weight="bold" text-anchor="middle" fill="#222" font-family="Liberation Sans, sans-serif"><tspan font-style="italic">f</tspan><tspan font-size="4.2" dy="1.6" font-style="italic">w</tspan><tspan dy="-1.6"> (vol%)</tspan></text>
<text transform="translate(318,55) rotate(-90)" font-size="6.5" font-weight="bold" font-style="italic" text-anchor="middle" fill="#3344ee" font-family="Liberation Sans, sans-serif">I/I<tspan font-size="4.2" dy="1.5">0</tspan></text>
<text transform="translate(442.5,59) rotate(-90)" font-size="6.5" font-weight="bold" font-style="italic" text-anchor="middle" fill="#ff3030" font-family="Liberation Sans, sans-serif">I/I<tspan font-size="4.2" dy="1.5">0</tspan></text>
<path d="M335.5 104.6 C337.92 104.43 344.25 103.87 350 103.6 C355.75 103.33 364.17 103.1 370 103 C375.83 102.9 381.33 103.5 385 103 C388.67 102.5 390.33 102.17 392 100 C393.67 97.83 394.05 95.25 395 90 C395.95 84.75 396.57 76.65 397.7 68.5 C398.83 60.35 400.43 46.8 401.8 41.1 C403.17 35.4 404.53 34.75 405.9 34.3 C407.27 33.85 408.62 36.35 410 38.4 C411.38 40.45 412.6 44.68 414.2 46.6 C415.8 48.52 418.23 49.42 419.6 49.9 C420.97 50.38 421.93 49.57 422.4 49.5" fill="none" stroke="#3344ee" stroke-width="0.8" stroke-opacity="1"/>
<path d="M335.5 104.4 C339.58 104.4 351.75 104.4 360 104.4 C368.25 104.4 379.17 104.55 385 104.4 C390.83 104.25 392.33 104.73 395 103.5 C397.67 102.27 399.18 99.63 401 97 C402.82 94.37 403.93 94.73 405.9 87.7 C407.87 80.67 410.78 63.92 412.8 54.8 C414.82 45.68 416.4 39.58 418 33 C419.6 26.42 421.67 18.25 422.4 15.3" fill="none" stroke="#ff3030" stroke-width="0.8" stroke-opacity="1"/>
<rect x="334" y="103.5" width="3" height="3" fill="#2244ee"/>
<rect x="343.65" y="102.1" width="3" height="3" fill="#2244ee"/>
<rect x="353.3" y="100.5" width="3" height="3" fill="#2244ee"/>
<rect x="362.95" y="101.8" width="3" height="3" fill="#2244ee"/>
<rect x="372.6" y="100.5" width="3" height="3" fill="#2244ee"/>
<rect x="382.25" y="100.5" width="3" height="3" fill="#2244ee"/>
<rect x="391.9" y="97.2" width="3" height="3" fill="#2244ee"/>
<rect x="401.55" y="17.7" width="3" height="3" fill="#2244ee"/>
<rect x="411.2" y="47.8" width="3" height="3" fill="#2244ee"/>
<rect x="420.85" y="47.8" width="3" height="3" fill="#2244ee"/>
<circle cx="335.5" cy="104.2" r="1.6" fill="#ff2020"/>
<circle cx="345.15" cy="104.3" r="1.6" fill="#ff2020"/>
<circle cx="354.8" cy="104.2" r="1.6" fill="#ff2020"/>
<circle cx="364.45" cy="104.3" r="1.6" fill="#ff2020"/>
<circle cx="374.1" cy="104.2" r="1.6" fill="#ff2020"/>
<circle cx="383.75" cy="104.2" r="1.6" fill="#ff2020"/>
<circle cx="393.4" cy="104.2" r="1.6" fill="#ff2020"/>
<circle cx="403.05" cy="99.2" r="1.6" fill="#ff2020"/>
<circle cx="412.7" cy="51.5" r="1.6" fill="#ff2020"/>
<circle cx="422.35" cy="15.6" r="1.6" fill="#ff2020"/>
<path d="M355.2 14.3H368.9" stroke="#3344ee" stroke-width="0.8"/>
<rect x="360.6" y="12.9" width="2.8" height="2.8" fill="#2244ee"/>
<text x="370.9" y="16.6" font-size="6" text-anchor="start" fill="#222" font-family="Liberation Sans, sans-serif">315 nm</text>
<path d="M355.2 21.4H368.9" stroke="#ff3030" stroke-width="0.8"/>
<circle cx="362" cy="21.4" r="1.5" fill="#ff2020"/>
<text x="370.9" y="23.7" font-size="6" text-anchor="start" fill="#222" font-family="Liberation Sans, sans-serif">360 nm</text>
<path d="M397.7 64.7H388.5" stroke="#3344ee" stroke-width="0.8"/><path d="M386.3 64.7l3.2-1.6v3.2z" fill="#3344ee"/>
<path d="M408.7 76.2H418" stroke="#ff3030" stroke-width="0.8"/><path d="M420.2 76.2l-3.2-1.6v3.2z" fill="#ff3030"/>
<path d="M480.5 203.5 L481.5 203.46 L482.5 203.43 L483.5 203.39 L484.5 203.36 L485.5 203.32 L486.5 203.28 L487.5 203.24 L488.5 203.2 L489.5 203.15 L490.5 203.1 L491.5 203.03 L492.5 202.96 L493.5 202.88 L494.5 202.79 L495.5 202.69 L496.5 202.58 L497.5 202.45 L498.5 202.3 L499.5 202.11 L500.5 201.87 L501.5 201.53 L502.5 201.09 L503.5 200.61 L504.5 200.18 L505.5 199.84 L506.5 199.5 L507.5 199.18 L508.5 198.89 L509.5 198.66 L510.5 198.53 L511.5 198.51 L512.5 198.62 L513.5 198.82 L514.5 199.07 L515.5 199.36 L516.5 199.66 L517.5 199.96 L518.5 200.42 L519.5 200.91 L520.5 201.1 L521.5 200.97 L522.5 200.63 L523.5 199.98 L524.5 198.85 L525.5 197.11 L526.5 195.04 L527.5 193.04 L528.5 190.98 L529.5 187.69 L530.5 182.77 L531.5 176.86 L532.5 170.68 L533.5 163.47 L534.5 153.43 L535.5 139.53 L536.5 126.02 L537.5 113.73 L538.5 101.29 L539.5 87.14 L540.5 73.22 L541.5 61.03 L542.5 52 L543.5 44.14 L544.5 36.23 L545.5 29.09 L546.5 24.03 L547.5 21.93 L548.5 23.77 L549.5 27.59 L550.5 33.06 L551.5 39 L552.5 45.19 L553.5 51.41 L554.5 57.52 L555.5 63.6 L556.5 69.63 L557.5 75.47 L558.5 80.98 L559.5 86.16 L560.5 91 L561.5 95.19 L562.5 99.12 L563.5 103.89 L564.5 109.02 L565.5 113.99 L566.5 118.94 L567.5 123.56 L568.5 127.86 L569.5 132.08 L570.5 136.19 L571.5 140.15 L572.5 143.91 L573.5 147.43 L574.5 150.83 L575.5 154.11 L576.5 157.23 L577.5 160.15 L578.5 162.87 L579.5 165.4 L580.5 167.79 L581.5 170.09 L582.5 172.3 L583.5 174.41 L584.5 176.38 L585.5 178.24 L586.5 179.97 L587.5 181.55 L588.5 182.99 L589.5 184.31 L590.5 185.51 L591.5 186.62 L592.5 187.65 L593.5 188.62 L594.5 189.53 L595.5 190.39 L596.5 191.22 L597.5 192.02 L598.5 192.8 L599.5 193.57 L600.5 194.32 L601.5 195.04 L602.5 195.73 L603.5 196.37 L604.5 196.94 L605.5 197.46 L606.5 197.93 L607.5 198.34 L608.5 198.71 L609.5 199.04 L610.5 199.34 L611.5 199.62 L612.5 199.88 L613.5 200.11 L614.5 200.33 L615.5 200.53 L616.5 200.71 L617.5 200.88 L618.5 201.04 L619.5 201.19 L620.5 201.33 L621.5 201.45 L622.5 201.58 L623.5 201.69 L624.5 201.8 L625.5 201.9 L626.5 202 L627.5 202.09 L628.5 202.17 L629.5 202.26 L630.5 202.34 L631.5 202.41 L632.5 202.47 L633.5 202.53 L634.5 202.58 L635.5 202.63 L636.5 202.67 L637.5 202.71 L638.5 202.75 L639.5 202.78 L640.5 202.81 L641.5 202.84 L642.5 202.87 L643.5 202.89 L644.5 202.92 L645.5 202.94 L646.5 202.96 L647.5 202.98 L648.5 203 L649.5 203.01 L650.5 203.03 L651.5 203.05 L652.5 203.06 L653.5 203.08 L654.5 203.1 L655.5 203.11 L656.5 203.13 L657.5 203.15 L658.5 203.17 L659.5 203.19 L660.5 203.21 L661.5 203.23 L662.5 203.25 L663.5 203.27 L664.5 203.29 L665.5 203.3 L666.5 203.32 L667.5 203.33 L668.5 203.35 L669.5 203.36 L670.5 203.37 L671.5 203.39 L672.5 203.4 L673.5 203.41 L674.5 203.42 L675.5 203.43 L676.5 203.44 L677.5 203.45 L678.5 203.46 L679.5 203.46 L680.5 203.47 L681.5 203.48 L682.5 203.49 L683.5 203.5 L683.5 204 L480.5 204Z" fill="url(#g12)"/>
<path d="M480.5 203.5 L481.5 203.46 L482.5 203.43 L483.5 203.39 L484.5 203.36 L485.5 203.32 L486.5 203.28 L487.5 203.24 L488.5 203.2 L489.5 203.15 L490.5 203.1 L491.5 203.03 L492.5 202.96 L493.5 202.88 L494.5 202.79 L495.5 202.69 L496.5 202.58 L497.5 202.45 L498.5 202.3 L499.5 202.11 L500.5 201.87 L501.5 201.53 L502.5 201.09 L503.5 200.61 L504.5 200.18 L505.5 199.84 L506.5 199.5 L507.5 199.18 L508.5 198.89 L509.5 198.66 L510.5 198.53 L511.5 198.51 L512.5 198.62 L513.5 198.82 L514.5 199.07 L515.5 199.36 L516.5 199.66 L517.5 199.96 L518.5 200.4 L519.5 200.89 L520.5 201.1 L521.5 201.01 L522.5 200.71 L523.5 200.18 L524.5 199.29 L525.5 197.94 L526.5 196.32 L527.5 194.62 L528.5 192.68 L529.5 190.19 L530.5 186.79 L531.5 181.79 L532.5 176.15 L533.5 170.25 L534.5 164.09 L535.5 157.47 L536.5 150.86 L537.5 144.43 L538.5 138.08 L539.5 131.91 L540.5 126.03 L541.5 120.29 L542.5 115.41 L543.5 112.14 L544.5 109.7 L545.5 107.93 L546.5 107.1 L547.5 107.35 L548.5 108.28 L549.5 109.86 L550.5 111.86 L551.5 113.93 L552.5 116.04 L553.5 118.09 L554.5 119.93 L555.5 122.1 L556.5 124.72 L557.5 127.64 L558.5 130.68 L559.5 133.77 L560.5 136.86 L561.5 139.89 L562.5 142.83 L563.5 145.72 L564.5 148.63 L565.5 151.49 L566.5 154.26 L567.5 156.9 L568.5 159.39 L569.5 161.74 L570.5 164.05 L571.5 166.32 L572.5 168.51 L573.5 170.61 L574.5 172.61 L575.5 174.49 L576.5 176.26 L577.5 177.89 L578.5 179.42 L579.5 180.89 L580.5 182.29 L581.5 183.62 L582.5 184.88 L583.5 186.07 L584.5 187.18 L585.5 188.23 L586.5 189.2 L587.5 190.1 L588.5 190.93 L589.5 191.69 L590.5 192.39 L591.5 193.02 L592.5 193.6 L593.5 194.12 L594.5 194.6 L595.5 195.04 L596.5 195.45 L597.5 195.83 L598.5 196.2 L599.5 196.56 L600.5 196.91 L601.5 197.25 L602.5 197.59 L603.5 197.91 L604.5 198.23 L605.5 198.53 L606.5 198.82 L607.5 199.09 L608.5 199.35 L609.5 199.61 L610.5 199.84 L611.5 200.07 L612.5 200.28 L613.5 200.48 L614.5 200.67 L615.5 200.84 L616.5 201 L617.5 201.16 L618.5 201.3 L619.5 201.43 L620.5 201.55 L621.5 201.66 L622.5 201.76 L623.5 201.85 L624.5 201.94 L625.5 202.02 L626.5 202.09 L627.5 202.16 L628.5 202.22 L629.5 202.28 L630.5 202.33 L631.5 202.38 L632.5 202.43 L633.5 202.47 L634.5 202.51 L635.5 202.55 L636.5 202.59 L637.5 202.62 L638.5 202.66 L639.5 202.69 L640.5 202.72 L641.5 202.75 L642.5 202.78 L643.5 202.81 L644.5 202.84 L645.5 202.87 L646.5 202.9 L647.5 202.92 L648.5 202.96 L649.5 202.99 L650.5 203.01 L651.5 203.04 L652.5 203.07 L653.5 203.1 L654.5 203.12 L655.5 203.14 L656.5 203.16 L657.5 203.18 L658.5 203.2 L659.5 203.22 L660.5 203.23 L661.5 203.25 L662.5 203.27 L663.5 203.28 L664.5 203.29 L665.5 203.31 L666.5 203.32 L667.5 203.33 L668.5 203.35 L669.5 203.36 L670.5 203.37 L671.5 203.38 L672.5 203.39 L673.5 203.4 L674.5 203.41 L675.5 203.42 L676.5 203.43 L677.5 203.44 L678.5 203.45 L679.5 203.46 L680.5 203.47 L681.5 203.48 L682.5 203.49 L683.5 203.5" fill="none" stroke="#555" stroke-width="0.6"/>
<path d="M480.5 203.5 L481.5 203.46 L482.5 203.43 L483.5 203.39 L484.5 203.36 L485.5 203.32 L486.5 203.28 L487.5 203.24 L488.5 203.2 L489.5 203.15 L490.5 203.1 L491.5 203.03 L492.5 202.96 L493.5 202.88 L494.5 202.79 L495.5 202.69 L496.5 202.58 L497.5 202.45 L498.5 202.3 L499.5 202.11 L500.5 201.87 L501.5 201.53 L502.5 201.09 L503.5 200.61 L504.5 200.18 L505.5 199.84 L506.5 199.5 L507.5 199.18 L508.5 198.89 L509.5 198.66 L510.5 198.53 L511.5 198.51 L512.5 198.62 L513.5 198.82 L514.5 199.07 L515.5 199.36 L516.5 199.66 L517.5 199.96 L518.5 200.4 L519.5 200.89 L520.5 201.1 L521.5 201.01 L522.5 200.71 L523.5 200.18 L524.5 199.29 L525.5 197.95 L526.5 196.33 L527.5 194.64 L528.5 192.7 L529.5 190.22 L530.5 186.83 L531.5 181.84 L532.5 176.2 L533.5 170.32 L534.5 164.2 L535.5 157.65 L536.5 151.11 L537.5 144.74 L538.5 138.45 L539.5 132.37 L540.5 126.57 L541.5 120.9 L542.5 116.05 L543.5 112.83 L544.5 110.45 L545.5 108.73 L546.5 107.95 L547.5 108.22 L548.5 109.14 L549.5 110.7 L550.5 112.66 L551.5 114.69 L552.5 116.76 L553.5 118.77 L554.5 120.57 L555.5 122.7 L556.5 125.28 L557.5 128.17 L558.5 131.19 L559.5 134.26 L560.5 137.33 L561.5 140.35 L562.5 143.28 L563.5 146.15 L564.5 149.03 L565.5 151.87 L566.5 154.62 L567.5 157.24 L568.5 159.71 L569.5 162.05 L570.5 164.34 L571.5 166.59 L572.5 168.76 L573.5 170.85 L574.5 172.83 L575.5 174.7 L576.5 176.45 L577.5 178.07 L578.5 179.59 L579.5 181.05 L580.5 182.44 L581.5 183.76 L582.5 185.01 L583.5 186.18 L584.5 187.29 L585.5 188.33 L586.5 189.29 L587.5 190.19 L588.5 191.01 L589.5 191.77 L590.5 192.46 L591.5 193.09 L592.5 193.66 L593.5 194.17 L594.5 194.65 L595.5 195.08 L596.5 195.49 L597.5 195.87 L598.5 196.24 L599.5 196.59 L600.5 196.94 L601.5 197.28 L602.5 197.61 L603.5 197.93 L604.5 198.24 L605.5 198.54 L606.5 198.83 L607.5 199.1 L608.5 199.36 L609.5 199.61 L610.5 199.85 L611.5 200.07 L612.5 200.29 L613.5 200.48 L614.5 200.67 L615.5 200.84 L616.5 201.01 L617.5 201.16 L618.5 201.3 L619.5 201.43 L620.5 201.55 L621.5 201.66 L622.5 201.77 L623.5 201.86 L624.5 201.94 L625.5 202.02 L626.5 202.09 L627.5 202.16 L628.5 202.22 L629.5 202.28 L630.5 202.33 L631.5 202.38 L632.5 202.43 L633.5 202.47 L634.5 202.51 L635.5 202.55 L636.5 202.59 L637.5 202.62 L638.5 202.66 L639.5 202.69 L640.5 202.72 L641.5 202.75 L642.5 202.78 L643.5 202.81 L644.5 202.84 L645.5 202.87 L646.5 202.9 L647.5 202.92 L648.5 202.95 L649.5 202.99 L650.5 203.01 L651.5 203.04 L652.5 203.07 L653.5 203.1 L654.5 203.12 L655.5 203.14 L656.5 203.16 L657.5 203.18 L658.5 203.2 L659.5 203.22 L660.5 203.23 L661.5 203.25 L662.5 203.27 L663.5 203.28 L664.5 203.29 L665.5 203.31 L666.5 203.32 L667.5 203.33 L668.5 203.35 L669.5 203.36 L670.5 203.37 L671.5 203.38 L672.5 203.39 L673.5 203.4 L674.5 203.41 L675.5 203.42 L676.5 203.43 L677.5 203.44 L678.5 203.45 L679.5 203.46 L680.5 203.47 L681.5 203.48 L682.5 203.49 L683.5 203.5" fill="none" stroke="#ff5555" stroke-width="0.6"/>
<path d="M480.5 203.5 L481.5 203.46 L482.5 203.43 L483.5 203.39 L484.5 203.36 L485.5 203.32 L486.5 203.28 L487.5 203.24 L488.5 203.2 L489.5 203.15 L490.5 203.1 L491.5 203.03 L492.5 202.96 L493.5 202.88 L494.5 202.79 L495.5 202.69 L496.5 202.58 L497.5 202.45 L498.5 202.3 L499.5 202.11 L500.5 201.87 L501.5 201.53 L502.5 201.09 L503.5 200.61 L504.5 200.18 L505.5 199.84 L506.5 199.5 L507.5 199.18 L508.5 198.89 L509.5 198.66 L510.5 198.53 L511.5 198.51 L512.5 198.62 L513.5 198.82 L514.5 199.07 L515.5 199.36 L516.5 199.66 L517.5 199.96 L518.5 200.41 L519.5 200.89 L520.5 201.1 L521.5 201 L522.5 200.71 L523.5 200.17 L524.5 199.28 L525.5 197.93 L526.5 196.3 L527.5 194.6 L528.5 192.66 L529.5 190.15 L530.5 186.73 L531.5 181.71 L532.5 176.06 L533.5 170.14 L534.5 163.93 L535.5 157.2 L536.5 150.48 L537.5 143.96 L538.5 137.51 L539.5 131.22 L540.5 125.22 L541.5 119.39 L542.5 114.44 L543.5 111.1 L544.5 108.58 L545.5 106.72 L546.5 105.83 L547.5 106.04 L548.5 106.98 L549.5 108.6 L550.5 110.65 L551.5 112.78 L552.5 114.95 L553.5 117.07 L554.5 118.98 L555.5 121.21 L556.5 123.88 L557.5 126.84 L558.5 129.92 L559.5 133.04 L560.5 136.16 L561.5 139.21 L562.5 142.16 L563.5 145.08 L564.5 148.02 L565.5 150.92 L566.5 153.72 L567.5 156.39 L568.5 158.9 L569.5 161.29 L570.5 163.63 L571.5 165.92 L572.5 168.13 L573.5 170.25 L574.5 172.27 L575.5 174.18 L576.5 175.96 L577.5 177.62 L578.5 179.17 L579.5 180.65 L580.5 182.07 L581.5 183.41 L582.5 184.69 L583.5 185.89 L584.5 187.02 L585.5 188.07 L586.5 189.06 L587.5 189.97 L588.5 190.81 L589.5 191.58 L590.5 192.28 L591.5 192.92 L592.5 193.51 L593.5 194.03 L594.5 194.52 L595.5 194.97 L596.5 195.38 L597.5 195.78 L598.5 196.15 L599.5 196.52 L600.5 196.87 L601.5 197.22 L602.5 197.56 L603.5 197.89 L604.5 198.21 L605.5 198.51 L606.5 198.8 L607.5 199.08 L608.5 199.34 L609.5 199.6 L610.5 199.84 L611.5 200.06 L612.5 200.28 L613.5 200.47 L614.5 200.66 L615.5 200.83 L616.5 201 L617.5 201.15 L618.5 201.29 L619.5 201.43 L620.5 201.55 L621.5 201.66 L622.5 201.76 L623.5 201.85 L624.5 201.94 L625.5 202.02 L626.5 202.09 L627.5 202.16 L628.5 202.22 L629.5 202.28 L630.5 202.33 L631.5 202.38 L632.5 202.43 L633.5 202.47 L634.5 202.52 L635.5 202.55 L636.5 202.59 L637.5 202.63 L638.5 202.66 L639.5 202.69 L640.5 202.72 L641.5 202.75 L642.5 202.78 L643.5 202.81 L644.5 202.84 L645.5 202.87 L646.5 202.9 L647.5 202.93 L648.5 202.96 L649.5 202.99 L650.5 203.01 L651.5 203.04 L652.5 203.07 L653.5 203.1 L654.5 203.12 L655.5 203.14 L656.5 203.16 L657.5 203.18 L658.5 203.2 L659.5 203.22 L660.5 203.23 L661.5 203.25 L662.5 203.27 L663.5 203.28 L664.5 203.29 L665.5 203.31 L666.5 203.32 L667.5 203.33 L668.5 203.35 L669.5 203.36 L670.5 203.37 L671.5 203.38 L672.5 203.39 L673.5 203.4 L674.5 203.41 L675.5 203.42 L676.5 203.43 L677.5 203.44 L678.5 203.45 L679.5 203.46 L680.5 203.47 L681.5 203.48 L682.5 203.49 L683.5 203.5" fill="none" stroke="#3333aa" stroke-width="0.7"/>
<path d="M480.5 203.5 L481.5 203.46 L482.5 203.43 L483.5 203.39 L484.5 203.36 L485.5 203.32 L486.5 203.28 L487.5 203.24 L488.5 203.2 L489.5 203.15 L490.5 203.1 L491.5 203.03 L492.5 202.96 L493.5 202.88 L494.5 202.79 L495.5 202.69 L496.5 202.58 L497.5 202.45 L498.5 202.3 L499.5 202.11 L500.5 201.87 L501.5 201.53 L502.5 201.09 L503.5 200.61 L504.5 200.18 L505.5 199.84 L506.5 199.5 L507.5 199.18 L508.5 198.89 L509.5 198.66 L510.5 198.53 L511.5 198.51 L512.5 198.62 L513.5 198.82 L514.5 199.07 L515.5 199.36 L516.5 199.66 L517.5 199.96 L518.5 200.4 L519.5 200.89 L520.5 201.1 L521.5 201.01 L522.5 200.72 L523.5 200.18 L524.5 199.3 L525.5 197.96 L526.5 196.34 L527.5 194.66 L528.5 192.72 L529.5 190.24 L530.5 186.87 L531.5 181.89 L532.5 176.26 L533.5 170.39 L534.5 164.31 L535.5 157.84 L536.5 151.37 L537.5 145.05 L538.5 138.83 L539.5 132.82 L540.5 127.1 L541.5 121.5 L542.5 116.7 L543.5 113.52 L544.5 111.2 L545.5 109.54 L546.5 108.8 L547.5 109.09 L548.5 110 L549.5 111.54 L550.5 113.47 L551.5 115.46 L552.5 117.48 L553.5 119.45 L554.5 121.2 L555.5 123.3 L556.5 125.85 L557.5 128.7 L558.5 131.69 L559.5 134.74 L560.5 137.79 L561.5 140.8 L562.5 143.73 L563.5 146.58 L564.5 149.43 L565.5 152.25 L566.5 154.98 L567.5 157.58 L568.5 160.03 L569.5 162.35 L570.5 164.62 L571.5 166.85 L572.5 169.01 L573.5 171.08 L574.5 173.05 L575.5 174.9 L576.5 176.64 L577.5 178.25 L578.5 179.76 L579.5 181.21 L580.5 182.59 L581.5 183.9 L582.5 185.14 L583.5 186.3 L584.5 187.4 L585.5 188.43 L586.5 189.39 L587.5 190.28 L588.5 191.09 L589.5 191.84 L590.5 192.53 L591.5 193.15 L592.5 193.72 L593.5 194.23 L594.5 194.7 L595.5 195.13 L596.5 195.53 L597.5 195.91 L598.5 196.27 L599.5 196.62 L600.5 196.97 L601.5 197.3 L602.5 197.63 L603.5 197.95 L604.5 198.25 L605.5 198.55 L606.5 198.83 L607.5 199.11 L608.5 199.37 L609.5 199.62 L610.5 199.85 L611.5 200.07 L612.5 200.29 L613.5 200.48 L614.5 200.67 L615.5 200.85 L616.5 201.01 L617.5 201.16 L618.5 201.3 L619.5 201.43 L620.5 201.56 L621.5 201.67 L622.5 201.77 L623.5 201.86 L624.5 201.95 L625.5 202.02 L626.5 202.1 L627.5 202.16 L628.5 202.22 L629.5 202.28 L630.5 202.33 L631.5 202.38 L632.5 202.43 L633.5 202.47 L634.5 202.51 L635.5 202.55 L636.5 202.59 L637.5 202.62 L638.5 202.66 L639.5 202.69 L640.5 202.72 L641.5 202.75 L642.5 202.78 L643.5 202.81 L644.5 202.84 L645.5 202.87 L646.5 202.89 L647.5 202.92 L648.5 202.95 L649.5 202.98 L650.5 203.01 L651.5 203.04 L652.5 203.07 L653.5 203.1 L654.5 203.12 L655.5 203.14 L656.5 203.16 L657.5 203.18 L658.5 203.2 L659.5 203.22 L660.5 203.23 L661.5 203.25 L662.5 203.27 L663.5 203.28 L664.5 203.29 L665.5 203.31 L666.5 203.32 L667.5 203.33 L668.5 203.35 L669.5 203.36 L670.5 203.37 L671.5 203.38 L672.5 203.39 L673.5 203.4 L674.5 203.41 L675.5 203.42 L676.5 203.43 L677.5 203.44 L678.5 203.45 L679.5 203.46 L680.5 203.47 L681.5 203.48 L682.5 203.49 L683.5 203.5" fill="none" stroke="#55cc55" stroke-width="0.7"/>
<path d="M480.5 203.5 L481.5 203.46 L482.5 203.43 L483.5 203.39 L484.5 203.36 L485.5 203.32 L486.5 203.28 L487.5 203.24 L488.5 203.2 L489.5 203.15 L490.5 203.1 L491.5 203.03 L492.5 202.96 L493.5 202.88 L494.5 202.79 L495.5 202.69 L496.5 202.58 L497.5 202.45 L498.5 202.3 L499.5 202.11 L500.5 201.87 L501.5 201.53 L502.5 201.09 L503.5 200.61 L504.5 200.18 L505.5 199.84 L506.5 199.5 L507.5 199.18 L508.5 198.89 L509.5 198.66 L510.5 198.53 L511.5 198.51 L512.5 198.62 L513.5 198.82 L514.5 199.07 L515.5 199.36 L516.5 199.66 L517.5 199.96 L518.5 200.41 L519.5 200.89 L520.5 201.1 L521.5 201 L522.5 200.69 L523.5 200.13 L524.5 199.2 L525.5 197.77 L526.5 196.04 L527.5 194.28 L528.5 192.32 L529.5 189.65 L530.5 185.93 L531.5 180.73 L532.5 174.97 L533.5 168.8 L534.5 161.81 L535.5 153.63 L536.5 145.54 L537.5 137.85 L538.5 130.2 L539.5 122.31 L540.5 114.71 L541.5 107.59 L542.5 101.82 L543.5 97.57 L544.5 93.96 L545.5 91.04 L546.5 89.3 L547.5 89.04 L548.5 90.17 L549.5 92.23 L550.5 94.97 L551.5 97.87 L552.5 100.86 L553.5 103.8 L554.5 106.56 L555.5 109.57 L556.5 112.92 L557.5 116.46 L558.5 120.03 L559.5 123.57 L560.5 127.03 L561.5 130.31 L562.5 133.47 L563.5 136.76 L564.5 140.14 L565.5 143.45 L566.5 146.69 L567.5 149.75 L568.5 152.63 L569.5 155.39 L570.5 158.08 L571.5 160.71 L572.5 163.23 L573.5 165.64 L574.5 167.94 L575.5 170.12 L576.5 172.18 L577.5 174.09 L578.5 175.88 L579.5 177.57 L580.5 179.18 L581.5 180.72 L582.5 182.18 L583.5 183.57 L584.5 184.87 L585.5 186.09 L586.5 187.22 L587.5 188.27 L588.5 189.23 L589.5 190.11 L590.5 190.92 L591.5 191.65 L592.5 192.32 L593.5 192.94 L594.5 193.51 L595.5 194.04 L596.5 194.54 L597.5 195.02 L598.5 195.47 L599.5 195.92 L600.5 196.36 L601.5 196.78 L602.5 197.19 L603.5 197.58 L604.5 197.95 L605.5 198.3 L606.5 198.63 L607.5 198.93 L608.5 199.22 L609.5 199.48 L610.5 199.74 L611.5 199.97 L612.5 200.19 L613.5 200.4 L614.5 200.59 L615.5 200.77 L616.5 200.94 L617.5 201.1 L618.5 201.24 L619.5 201.38 L620.5 201.5 L621.5 201.62 L622.5 201.72 L623.5 201.82 L624.5 201.91 L625.5 201.99 L626.5 202.07 L627.5 202.14 L628.5 202.21 L629.5 202.27 L630.5 202.33 L631.5 202.39 L632.5 202.44 L633.5 202.48 L634.5 202.53 L635.5 202.57 L636.5 202.61 L637.5 202.64 L638.5 202.68 L639.5 202.71 L640.5 202.74 L641.5 202.77 L642.5 202.8 L643.5 202.83 L644.5 202.86 L645.5 202.88 L646.5 202.91 L647.5 202.94 L648.5 202.96 L649.5 202.99 L650.5 203.02 L651.5 203.04 L652.5 203.07 L653.5 203.09 L654.5 203.11 L655.5 203.14 L656.5 203.16 L657.5 203.17 L658.5 203.19 L659.5 203.21 L660.5 203.23 L661.5 203.25 L662.5 203.26 L663.5 203.28 L664.5 203.29 L665.5 203.31 L666.5 203.32 L667.5 203.33 L668.5 203.35 L669.5 203.36 L670.5 203.37 L671.5 203.38 L672.5 203.39 L673.5 203.4 L674.5 203.41 L675.5 203.42 L676.5 203.43 L677.5 203.44 L678.5 203.45 L679.5 203.46 L680.5 203.47 L681.5 203.48 L682.5 203.49 L683.5 203.5" fill="none" stroke="#ffaaee" stroke-width="0.6"/>
<path d="M480.5 203.5 L481.5 203.46 L482.5 203.43 L483.5 203.39 L484.5 203.36 L485.5 203.32 L486.5 203.28 L487.5 203.24 L488.5 203.2 L489.5 203.15 L490.5 203.1 L491.5 203.03 L492.5 202.96 L493.5 202.88 L494.5 202.79 L495.5 202.69 L496.5 202.58 L497.5 202.45 L498.5 202.3 L499.5 202.11 L500.5 201.87 L501.5 201.53 L502.5 201.09 L503.5 200.61 L504.5 200.18 L505.5 199.84 L506.5 199.5 L507.5 199.18 L508.5 198.89 L509.5 198.66 L510.5 198.53 L511.5 198.51 L512.5 198.62 L513.5 198.82 L514.5 199.07 L515.5 199.36 L516.5 199.66 L517.5 199.96 L518.5 200.41 L519.5 200.9 L520.5 201.1 L521.5 200.99 L522.5 200.67 L523.5 200.09 L524.5 199.1 L525.5 197.58 L526.5 195.76 L527.5 193.93 L528.5 191.93 L529.5 189.09 L530.5 185.02 L531.5 179.62 L532.5 173.75 L533.5 167.28 L534.5 159.42 L535.5 149.6 L536.5 139.96 L537.5 130.96 L538.5 121.94 L539.5 112.26 L540.5 102.86 L541.5 94.29 L542.5 87.58 L543.5 82.3 L544.5 77.46 L545.5 73.34 L546.5 70.65 L547.5 69.87 L548.5 71.2 L549.5 73.76 L550.5 77.28 L551.5 81.05 L552.5 84.95 L553.5 88.83 L554.5 92.55 L555.5 96.44 L556.5 100.55 L557.5 104.75 L558.5 108.87 L559.5 112.88 L560.5 116.74 L561.5 120.28 L562.5 123.65 L563.5 127.37 L564.5 131.25 L565.5 135.03 L566.5 138.76 L567.5 142.27 L568.5 145.55 L569.5 148.73 L570.5 151.83 L571.5 154.84 L572.5 157.71 L573.5 160.44 L574.5 163.05 L575.5 165.55 L576.5 167.91 L577.5 170.11 L578.5 172.16 L579.5 174.09 L580.5 175.93 L581.5 177.69 L582.5 179.36 L583.5 180.95 L584.5 182.44 L585.5 183.85 L586.5 185.15 L587.5 186.35 L588.5 187.45 L589.5 188.45 L590.5 189.37 L591.5 190.21 L592.5 190.99 L593.5 191.7 L594.5 192.37 L595.5 193 L596.5 193.59 L597.5 194.16 L598.5 194.71 L599.5 195.25 L600.5 195.77 L601.5 196.28 L602.5 196.77 L603.5 197.23 L604.5 197.66 L605.5 198.06 L606.5 198.43 L607.5 198.76 L608.5 199.07 L609.5 199.36 L610.5 199.62 L611.5 199.87 L612.5 200.1 L613.5 200.31 L614.5 200.52 L615.5 200.7 L616.5 200.87 L617.5 201.03 L618.5 201.18 L619.5 201.32 L620.5 201.45 L621.5 201.57 L622.5 201.68 L623.5 201.78 L624.5 201.88 L625.5 201.97 L626.5 202.05 L627.5 202.13 L628.5 202.2 L629.5 202.27 L630.5 202.33 L631.5 202.39 L632.5 202.45 L633.5 202.5 L634.5 202.55 L635.5 202.59 L636.5 202.63 L637.5 202.66 L638.5 202.7 L639.5 202.73 L640.5 202.76 L641.5 202.79 L642.5 202.82 L643.5 202.85 L644.5 202.87 L645.5 202.9 L646.5 202.92 L647.5 202.95 L648.5 202.97 L649.5 203 L650.5 203.02 L651.5 203.05 L652.5 203.07 L653.5 203.09 L654.5 203.11 L655.5 203.13 L656.5 203.15 L657.5 203.17 L658.5 203.19 L659.5 203.21 L660.5 203.22 L661.5 203.24 L662.5 203.26 L663.5 203.28 L664.5 203.29 L665.5 203.31 L666.5 203.32 L667.5 203.33 L668.5 203.35 L669.5 203.36 L670.5 203.37 L671.5 203.38 L672.5 203.39 L673.5 203.4 L674.5 203.41 L675.5 203.42 L676.5 203.43 L677.5 203.44 L678.5 203.45 L679.5 203.46 L680.5 203.47 L681.5 203.48 L682.5 203.49 L683.5 203.5" fill="none" stroke="#66e0ff" stroke-width="0.7"/>
<path d="M480.5 203.5 L481.5 203.46 L482.5 203.43 L483.5 203.39 L484.5 203.36 L485.5 203.32 L486.5 203.28 L487.5 203.24 L488.5 203.2 L489.5 203.15 L490.5 203.1 L491.5 203.03 L492.5 202.96 L493.5 202.88 L494.5 202.79 L495.5 202.69 L496.5 202.58 L497.5 202.45 L498.5 202.3 L499.5 202.11 L500.5 201.87 L501.5 201.53 L502.5 201.09 L503.5 200.61 L504.5 200.18 L505.5 199.84 L506.5 199.5 L507.5 199.18 L508.5 198.89 L509.5 198.66 L510.5 198.53 L511.5 198.51 L512.5 198.62 L513.5 198.82 L514.5 199.07 L515.5 199.36 L516.5 199.66 L517.5 199.96 L518.5 200.42 L519.5 200.91 L520.5 201.1 L521.5 200.98 L522.5 200.64 L523.5 200.02 L524.5 198.94 L525.5 197.27 L526.5 195.29 L527.5 193.35 L528.5 191.31 L529.5 188.17 L530.5 183.55 L531.5 177.81 L532.5 171.74 L533.5 164.79 L534.5 155.5 L535.5 143.01 L536.5 130.83 L537.5 119.68 L538.5 108.43 L539.5 95.82 L540.5 83.46 L541.5 72.52 L542.5 64.29 L543.5 57.32 L544.5 50.47 L545.5 44.37 L546.5 40.14 L547.5 38.49 L548.5 40.15 L549.5 43.54 L550.5 48.33 L551.5 53.52 L552.5 58.92 L553.5 64.34 L554.5 69.62 L555.5 74.95 L556.5 80.31 L557.5 85.58 L558.5 90.61 L559.5 95.39 L560.5 99.89 L561.5 103.86 L562.5 107.6 L563.5 112 L564.5 116.7 L565.5 121.26 L566.5 125.79 L567.5 130.02 L568.5 133.97 L569.5 137.83 L570.5 141.59 L571.5 145.22 L572.5 148.68 L573.5 151.93 L574.5 155.05 L575.5 158.06 L576.5 160.92 L577.5 163.59 L578.5 166.08 L579.5 168.4 L580.5 170.6 L581.5 172.72 L582.5 174.74 L583.5 176.67 L584.5 178.48 L585.5 180.18 L586.5 181.76 L587.5 183.21 L588.5 184.53 L589.5 185.74 L590.5 186.85 L591.5 187.86 L592.5 188.8 L593.5 189.68 L594.5 190.51 L595.5 191.29 L596.5 192.04 L597.5 192.76 L598.5 193.46 L599.5 194.15 L600.5 194.82 L601.5 195.47 L602.5 196.09 L603.5 196.67 L604.5 197.19 L605.5 197.67 L606.5 198.1 L607.5 198.49 L608.5 198.83 L609.5 199.15 L610.5 199.44 L611.5 199.71 L612.5 199.95 L613.5 200.18 L614.5 200.39 L615.5 200.59 L616.5 200.77 L617.5 200.93 L618.5 201.09 L619.5 201.23 L620.5 201.37 L621.5 201.49 L622.5 201.61 L623.5 201.72 L624.5 201.83 L625.5 201.92 L626.5 202.01 L627.5 202.1 L628.5 202.18 L629.5 202.26 L630.5 202.33 L631.5 202.4 L632.5 202.46 L633.5 202.52 L634.5 202.57 L635.5 202.61 L636.5 202.66 L637.5 202.7 L638.5 202.73 L639.5 202.77 L640.5 202.8 L641.5 202.82 L642.5 202.85 L643.5 202.88 L644.5 202.9 L645.5 202.92 L646.5 202.95 L647.5 202.97 L648.5 202.99 L649.5 203.01 L650.5 203.03 L651.5 203.05 L652.5 203.07 L653.5 203.08 L654.5 203.1 L655.5 203.12 L656.5 203.14 L657.5 203.16 L658.5 203.18 L659.5 203.2 L660.5 203.22 L661.5 203.24 L662.5 203.25 L663.5 203.27 L664.5 203.29 L665.5 203.3 L666.5 203.32 L667.5 203.33 L668.5 203.35 L669.5 203.36 L670.5 203.37 L671.5 203.38 L672.5 203.4 L673.5 203.41 L674.5 203.42 L675.5 203.43 L676.5 203.44 L677.5 203.44 L678.5 203.45 L679.5 203.46 L680.5 203.47 L681.5 203.48 L682.5 203.49 L683.5 203.5" fill="none" stroke="#ff44ff" stroke-width="0.7"/>
<path d="M480.5 203.5 L481.5 203.46 L482.5 203.43 L483.5 203.39 L484.5 203.36 L485.5 203.32 L486.5 203.28 L487.5 203.24 L488.5 203.2 L489.5 203.15 L490.5 203.1 L491.5 203.03 L492.5 202.96 L493.5 202.88 L494.5 202.79 L495.5 202.69 L496.5 202.58 L497.5 202.45 L498.5 202.3 L499.5 202.11 L500.5 201.87 L501.5 201.53 L502.5 201.09 L503.5 200.61 L504.5 200.18 L505.5 199.84 L506.5 199.5 L507.5 199.18 L508.5 198.89 L509.5 198.66 L510.5 198.53 L511.5 198.51 L512.5 198.62 L513.5 198.82 L514.5 199.07 L515.5 199.36 L516.5 199.66 L517.5 199.96 L518.5 200.42 L519.5 200.91 L520.5 201.1 L521.5 200.97 L522.5 200.63 L523.5 200 L524.5 198.9 L525.5 197.2 L526.5 195.17 L527.5 193.2 L528.5 191.15 L529.5 187.94 L530.5 183.18 L531.5 177.36 L532.5 171.24 L533.5 164.17 L534.5 154.52 L535.5 141.36 L536.5 128.55 L537.5 116.86 L538.5 105.05 L539.5 91.7 L540.5 78.61 L541.5 67.08 L542.5 58.47 L543.5 51.08 L544.5 43.72 L545.5 37.13 L546.5 32.51 L547.5 30.65 L548.5 32.39 L549.5 35.98 L550.5 41.1 L551.5 46.64 L552.5 52.42 L553.5 58.21 L554.5 63.89 L555.5 69.57 L556.5 75.25 L557.5 80.79 L558.5 86.05 L559.5 91.01 L560.5 95.68 L561.5 99.75 L562.5 103.58 L563.5 108.16 L564.5 113.06 L565.5 117.81 L566.5 122.54 L567.5 126.96 L568.5 131.08 L569.5 135.11 L570.5 139.03 L571.5 142.82 L572.5 146.42 L573.5 149.8 L574.5 153.05 L575.5 156.19 L576.5 159.17 L577.5 161.96 L578.5 164.56 L579.5 166.98 L580.5 169.27 L581.5 171.47 L582.5 173.58 L583.5 175.6 L584.5 177.48 L585.5 179.26 L586.5 180.91 L587.5 182.42 L588.5 183.8 L589.5 185.06 L590.5 186.22 L591.5 187.27 L592.5 188.26 L593.5 189.18 L594.5 190.04 L595.5 190.87 L596.5 191.65 L597.5 192.41 L598.5 193.15 L599.5 193.87 L600.5 194.58 L601.5 195.27 L602.5 195.92 L603.5 196.52 L604.5 197.07 L605.5 197.57 L606.5 198.02 L607.5 198.42 L608.5 198.77 L609.5 199.1 L610.5 199.39 L611.5 199.67 L612.5 199.92 L613.5 200.15 L614.5 200.36 L615.5 200.56 L616.5 200.74 L617.5 200.91 L618.5 201.07 L619.5 201.21 L620.5 201.35 L621.5 201.48 L622.5 201.6 L623.5 201.71 L624.5 201.81 L625.5 201.91 L626.5 202.01 L627.5 202.09 L628.5 202.18 L629.5 202.26 L630.5 202.34 L631.5 202.4 L632.5 202.47 L633.5 202.52 L634.5 202.58 L635.5 202.62 L636.5 202.66 L637.5 202.7 L638.5 202.74 L639.5 202.77 L640.5 202.8 L641.5 202.83 L642.5 202.86 L643.5 202.89 L644.5 202.91 L645.5 202.93 L646.5 202.95 L647.5 202.97 L648.5 202.99 L649.5 203.01 L650.5 203.03 L651.5 203.05 L652.5 203.07 L653.5 203.08 L654.5 203.1 L655.5 203.12 L656.5 203.13 L657.5 203.15 L658.5 203.17 L659.5 203.19 L660.5 203.21 L661.5 203.23 L662.5 203.25 L663.5 203.27 L664.5 203.29 L665.5 203.3 L666.5 203.32 L667.5 203.33 L668.5 203.35 L669.5 203.36 L670.5 203.37 L671.5 203.38 L672.5 203.4 L673.5 203.41 L674.5 203.42 L675.5 203.43 L676.5 203.44 L677.5 203.45 L678.5 203.45 L679.5 203.46 L680.5 203.47 L681.5 203.48 L682.5 203.49 L683.5 203.5" fill="none" stroke="#777" stroke-width="0.6"/>
<path d="M480.5 203.5 L481.5 203.46 L482.5 203.43 L483.5 203.39 L484.5 203.36 L485.5 203.32 L486.5 203.28 L487.5 203.24 L488.5 203.2 L489.5 203.15 L490.5 203.1 L491.5 203.03 L492.5 202.96 L493.5 202.88 L494.5 202.79 L495.5 202.69 L496.5 202.58 L497.5 202.45 L498.5 202.3 L499.5 202.11 L500.5 201.87 L501.5 201.53 L502.5 201.09 L503.5 200.61 L504.5 200.18 L505.5 199.84 L506.5 199.5 L507.5 199.18 L508.5 198.89 L509.5 198.66 L510.5 198.53 L511.5 198.51 L512.5 198.62 L513.5 198.82 L514.5 199.07 L515.5 199.36 L516.5 199.66 L517.5 199.96 L518.5 200.42 L519.5 200.91 L520.5 201.1 L521.5 200.97 L522.5 200.63 L523.5 199.99 L524.5 198.87 L525.5 197.15 L526.5 195.09 L527.5 193.1 L528.5 191.05 L529.5 187.79 L530.5 182.93 L531.5 177.06 L532.5 170.9 L533.5 163.75 L534.5 153.87 L535.5 140.26 L536.5 127.03 L537.5 114.98 L538.5 102.8 L539.5 88.96 L540.5 75.37 L541.5 63.45 L542.5 54.58 L543.5 46.91 L544.5 39.22 L545.5 32.31 L546.5 27.42 L547.5 25.42 L548.5 27.22 L549.5 30.94 L550.5 36.27 L551.5 42.05 L552.5 48.08 L553.5 54.13 L554.5 60.07 L555.5 65.99 L556.5 71.88 L557.5 77.6 L558.5 83.01 L559.5 88.1 L560.5 92.87 L561.5 97.02 L562.5 100.91 L563.5 105.6 L564.5 110.63 L565.5 115.52 L566.5 120.38 L567.5 124.92 L568.5 129.15 L569.5 133.29 L570.5 137.33 L571.5 141.22 L572.5 144.91 L573.5 148.38 L574.5 151.72 L575.5 154.94 L576.5 158 L577.5 160.87 L578.5 163.55 L579.5 166.03 L580.5 168.38 L581.5 170.65 L582.5 172.81 L583.5 174.88 L584.5 176.82 L585.5 178.65 L586.5 180.35 L587.5 181.9 L588.5 183.32 L589.5 184.61 L590.5 185.8 L591.5 186.88 L592.5 187.89 L593.5 188.84 L594.5 189.73 L595.5 190.58 L596.5 191.4 L597.5 192.18 L598.5 192.94 L599.5 193.69 L600.5 194.42 L601.5 195.13 L602.5 195.81 L603.5 196.43 L604.5 197 L605.5 197.51 L606.5 197.96 L607.5 198.37 L608.5 198.73 L609.5 199.06 L610.5 199.36 L611.5 199.64 L612.5 199.89 L613.5 200.12 L614.5 200.34 L615.5 200.54 L616.5 200.72 L617.5 200.89 L618.5 201.05 L619.5 201.2 L620.5 201.34 L621.5 201.46 L622.5 201.58 L623.5 201.7 L624.5 201.8 L625.5 201.9 L626.5 202 L627.5 202.09 L628.5 202.18 L629.5 202.26 L630.5 202.34 L631.5 202.41 L632.5 202.47 L633.5 202.53 L634.5 202.58 L635.5 202.63 L636.5 202.67 L637.5 202.71 L638.5 202.75 L639.5 202.78 L640.5 202.81 L641.5 202.84 L642.5 202.87 L643.5 202.89 L644.5 202.91 L645.5 202.94 L646.5 202.96 L647.5 202.98 L648.5 203 L649.5 203.01 L650.5 203.03 L651.5 203.05 L652.5 203.06 L653.5 203.08 L654.5 203.1 L655.5 203.12 L656.5 203.13 L657.5 203.15 L658.5 203.17 L659.5 203.19 L660.5 203.21 L661.5 203.23 L662.5 203.25 L663.5 203.27 L664.5 203.29 L665.5 203.3 L666.5 203.32 L667.5 203.33 L668.5 203.35 L669.5 203.36 L670.5 203.37 L671.5 203.39 L672.5 203.4 L673.5 203.41 L674.5 203.42 L675.5 203.43 L676.5 203.44 L677.5 203.45 L678.5 203.46 L679.5 203.46 L680.5 203.47 L681.5 203.48 L682.5 203.49 L683.5 203.5" fill="none" stroke="#8a8a40" stroke-width="0.7"/>
<path d="M480.5 203.5 L481.5 203.46 L482.5 203.43 L483.5 203.39 L484.5 203.36 L485.5 203.32 L486.5 203.28 L487.5 203.24 L488.5 203.2 L489.5 203.15 L490.5 203.1 L491.5 203.03 L492.5 202.96 L493.5 202.88 L494.5 202.79 L495.5 202.69 L496.5 202.58 L497.5 202.45 L498.5 202.3 L499.5 202.11 L500.5 201.87 L501.5 201.53 L502.5 201.09 L503.5 200.61 L504.5 200.18 L505.5 199.84 L506.5 199.5 L507.5 199.18 L508.5 198.89 L509.5 198.66 L510.5 198.53 L511.5 198.51 L512.5 198.62 L513.5 198.82 L514.5 199.07 L515.5 199.36 L516.5 199.66 L517.5 199.96 L518.5 200.42 L519.5 200.91 L520.5 201.1 L521.5 200.97 L522.5 200.63 L523.5 199.98 L524.5 198.85 L525.5 197.11 L526.5 195.04 L527.5 193.04 L528.5 190.98 L529.5 187.69 L530.5 182.77 L531.5 176.86 L532.5 170.68 L533.5 163.47 L534.5 153.43 L535.5 139.53 L536.5 126.02 L537.5 113.73 L538.5 101.29 L539.5 87.14 L540.5 73.22 L541.5 61.03 L542.5 52 L543.5 44.14 L544.5 36.23 L545.5 29.09 L546.5 24.03 L547.5 21.93 L548.5 23.77 L549.5 27.59 L550.5 33.06 L551.5 39 L552.5 45.19 L553.5 51.41 L554.5 57.52 L555.5 63.6 L556.5 69.63 L557.5 75.47 L558.5 80.98 L559.5 86.16 L560.5 91 L561.5 95.19 L562.5 99.12 L563.5 103.89 L564.5 109.02 L565.5 113.99 L566.5 118.94 L567.5 123.56 L568.5 127.86 L569.5 132.08 L570.5 136.19 L571.5 140.15 L572.5 143.91 L573.5 147.43 L574.5 150.83 L575.5 154.11 L576.5 157.23 L577.5 160.15 L578.5 162.87 L579.5 165.4 L580.5 167.79 L581.5 170.09 L582.5 172.3 L583.5 174.41 L584.5 176.38 L585.5 178.24 L586.5 179.97 L587.5 181.55 L588.5 182.99 L589.5 184.31 L590.5 185.51 L591.5 186.62 L592.5 187.65 L593.5 188.62 L594.5 189.53 L595.5 190.39 L596.5 191.22 L597.5 192.02 L598.5 192.8 L599.5 193.57 L600.5 194.32 L601.5 195.04 L602.5 195.73 L603.5 196.37 L604.5 196.94 L605.5 197.46 L606.5 197.93 L607.5 198.34 L608.5 198.71 L609.5 199.04 L610.5 199.34 L611.5 199.62 L612.5 199.88 L613.5 200.11 L614.5 200.33 L615.5 200.53 L616.5 200.71 L617.5 200.88 L618.5 201.04 L619.5 201.19 L620.5 201.33 L621.5 201.45 L622.5 201.58 L623.5 201.69 L624.5 201.8 L625.5 201.9 L626.5 202 L627.5 202.09 L628.5 202.17 L629.5 202.26 L630.5 202.34 L631.5 202.41 L632.5 202.47 L633.5 202.53 L634.5 202.58 L635.5 202.63 L636.5 202.67 L637.5 202.71 L638.5 202.75 L639.5 202.78 L640.5 202.81 L641.5 202.84 L642.5 202.87 L643.5 202.89 L644.5 202.92 L645.5 202.94 L646.5 202.96 L647.5 202.98 L648.5 203 L649.5 203.01 L650.5 203.03 L651.5 203.05 L652.5 203.06 L653.5 203.08 L654.5 203.1 L655.5 203.11 L656.5 203.13 L657.5 203.15 L658.5 203.17 L659.5 203.19 L660.5 203.21 L661.5 203.23 L662.5 203.25 L663.5 203.27 L664.5 203.29 L665.5 203.3 L666.5 203.32 L667.5 203.33 L668.5 203.35 L669.5 203.36 L670.5 203.37 L671.5 203.39 L672.5 203.4 L673.5 203.41 L674.5 203.42 L675.5 203.43 L676.5 203.44 L677.5 203.45 L678.5 203.46 L679.5 203.46 L680.5 203.47 L681.5 203.48 L682.5 203.49 L683.5 203.5" fill="none" stroke="#443388" stroke-width="0.8"/>
<text x="550" y="18.1" font-size="8.8" font-weight="bold" text-anchor="middle" fill="#ff1a1a" font-family="Liberation Sans, sans-serif">374 nm</text>
<text x="510.2" y="194.7" font-size="8.8" font-weight="bold" text-anchor="middle" fill="#2222ee" font-family="Liberation Sans, sans-serif">317 nm</text>
<text x="519.4" y="103.3" font-size="8.8" font-weight="bold" text-anchor="middle" fill="#ff1a1a" font-family="Liberation Sans, sans-serif">FWHM</text>
<text x="519.2" y="113.8" font-size="8.8" font-weight="bold" text-anchor="middle" fill="#ff1a1a" font-family="Liberation Sans, sans-serif">40 nm</text>
<path d="M541 104.6H561" stroke="#000" stroke-width="1.1"/><path d="M538.3 104.6l3.6-2v4z M563.6 104.6l-3.6-2v4z" fill="#000"/>
<path d="M657.3 14 L665.27 18.6 L665.27 27.8 L657.3 32.4 L649.33 27.8 L649.33 18.6Z M651.83 19.18 L656.55 16.45 M663.51 20.47 L663.51 25.93 M656.55 29.95 L651.83 27.22" fill="none" stroke="#333" stroke-width="0.85" stroke-linejoin="round"/>
<path d="M633.1 27.9 L641.07 32.5 L641.07 41.7 L633.1 46.3 L625.13 41.7 L625.13 32.5Z M633.85 30.35 L638.57 33.08 M638.57 41.12 L633.85 43.85 M626.89 39.83 L626.89 34.37" fill="none" stroke="#333" stroke-width="0.85" stroke-linejoin="round"/>
<path d="M592.7 42 L600.67 46.6 L600.67 55.8 L592.7 60.4 L584.73 55.8 L584.73 46.6Z M587.23 47.18 L591.95 44.45 M598.91 48.47 L598.91 53.93 M591.95 57.95 L587.23 55.22" fill="none" stroke="#333" stroke-width="0.85" stroke-linejoin="round"/>
<path d="M617.1 55.7 L625.07 60.3 L625.07 69.5 L617.1 74.1 L609.13 69.5 L609.13 60.3Z M617.85 58.15 L622.57 60.88 M622.57 68.92 L617.85 71.65 M610.89 67.63 L610.89 62.17" fill="none" stroke="#333" stroke-width="0.85" stroke-linejoin="round"/>
<path d="M649.3 55.7 L657.27 60.3 L657.27 69.5 L649.3 74.1 L641.33 69.5 L641.33 60.3Z M650.05 58.15 L654.77 60.88 M654.77 68.92 L650.05 71.65 M643.09 67.63 L643.09 62.17" fill="none" stroke="#333" stroke-width="0.85" stroke-linejoin="round"/>
<path d="M649.3 84.7 L657.27 89.3 L657.27 98.5 L649.3 103.1 L641.33 98.5 L641.33 89.3Z M643.83 89.88 L648.55 87.15 M655.51 91.17 L655.51 96.63 M648.55 100.65 L643.83 97.92" fill="none" stroke="#333" stroke-width="0.85" stroke-linejoin="round"/>
<path d="M649.33 27.8 L641.07 32.5" stroke="#333" stroke-width="0.85"/>
<path d="M633.1 46.3 L633.2 55.9" stroke="#333" stroke-width="0.85"/>
<path d="M633.2 55.9 L625.07 60.3" stroke="#333" stroke-width="0.85"/>
<path d="M633.2 55.9 L641.33 60.3" stroke="#333" stroke-width="0.85"/>
<path d="M600.67 55.8 L609.13 60.3" stroke="#333" stroke-width="0.85"/>
<path d="M649.3 74.1 L649.3 84.7" stroke="#333" stroke-width="0.85"/>
<text x="604.8" y="114.5" font-size="10" fill="#222" font-family="Liberation Sans, sans-serif"><tspan font-style="italic">m</tspan>-TBPM</text>
<text x="624.3" y="132.4" font-size="8.5" fill="#222" font-family="Liberation Sans, sans-serif"><tspan font-style="italic">λ</tspan><tspan font-size="5.27" dy="2.12">ex</tspan><tspan dy="-2.12"> (nm)</tspan></text>
<path d="M603.1 142.6H621.2" stroke="#555" stroke-width="1.1"/>
<text x="623.8" y="145.5" font-size="8" text-anchor="start" fill="#222" font-family="Liberation Sans, sans-serif">250</text>
<path d="M641.7 142.6H659.7" stroke="#ff5555" stroke-width="1.1"/>
<text x="662.8" y="145.5" font-size="8" text-anchor="start" fill="#222" font-family="Liberation Sans, sans-serif">260</text>
<path d="M603.1 152.7H621.2" stroke="#66ee66" stroke-width="1.1"/>
<text x="623.8" y="155.6" font-size="8" text-anchor="start" fill="#222" font-family="Liberation Sans, sans-serif">270</text>
<path d="M641.7 152.7H659.7" stroke="#7777ee" stroke-width="1.1"/>
<text x="662.8" y="155.6" font-size="8" text-anchor="start" fill="#222" font-family="Liberation Sans, sans-serif">280</text>
<path d="M603.1 162.8H621.2" stroke="#ffaaff" stroke-width="1.1"/>
<text x="623.8" y="165.7" font-size="8" text-anchor="start" fill="#222" font-family="Liberation Sans, sans-serif">290</text>
<path d="M641.7 162.8H659.7" stroke="#66eeff" stroke-width="1.1"/>
<text x="662.8" y="165.7" font-size="8" text-anchor="start" fill="#222" font-family="Liberation Sans, sans-serif">300</text>
<path d="M603.1 173H621.2" stroke="#ff55ff" stroke-width="1.1"/>
<text x="623.8" y="175.9" font-size="8" text-anchor="start" fill="#222" font-family="Liberation Sans, sans-serif">310</text>
<path d="M641.7 173H659.7" stroke="#999" stroke-width="1.1"/>
<text x="662.8" y="175.9" font-size="8" text-anchor="start" fill="#222" font-family="Liberation Sans, sans-serif">320</text>
<path d="M603.1 183.1H621.2" stroke="#999944" stroke-width="1.1"/>
<text x="623.8" y="186" font-size="8" text-anchor="start" fill="#222" font-family="Liberation Sans, sans-serif">330</text>
<rect x="641.7" y="178.8" width="18" height="8.7" fill="url(#g13)" stroke="#333399" stroke-width="1"/>
<text x="662.8" y="186" font-size="8" text-anchor="start" fill="#222" font-family="Liberation Sans, sans-serif">340</text>
<path d="M15.2 437.6 C15.52 437.07 16.08 438.45 17.1 434.4 C18.12 430.35 19.88 422.37 21.3 413.3 C22.72 404.23 24.43 391.67 25.6 380 C26.77 368.33 27.42 352.93 28.3 343.3 C29.18 333.67 29.95 328.88 30.9 322.2 C31.85 315.52 32.95 308.48 34 303.2 C35.05 297.92 35.78 293.73 37.2 290.5 C38.62 287.27 40.73 283.97 42.5 283.8 C44.27 283.63 46.22 286.27 47.8 289.5 C49.38 292.73 50.43 297.75 52 303.2 C53.57 308.65 55.45 315.52 57.2 322.2 C58.95 328.88 61.03 336.67 62.5 343.3 C63.97 349.93 64.77 355.88 66 362 C67.23 368.12 68.58 374.22 69.9 380 C71.22 385.78 72.07 391.37 73.9 396.7 C75.73 402.03 78.58 407.83 80.9 412 C83.22 416.17 85.02 418.68 87.8 421.7 C90.58 424.72 94.12 427.55 97.6 430.1 C101.08 432.65 103.3 435.15 108.7 437 C114.1 438.85 121.45 440.12 130 441.2 C138.55 442.28 150 442.9 160 443.5 C170 444.1 180.25 444.47 190 444.8 C199.75 445.13 213.75 445.38 218.5 445.5 L218.5 446 L15.2 446 Z" fill="url(#g14)" stroke="none"/>
<path d="M15.2 437.6 C15.52 437.07 16.08 438.45 17.1 434.4 C18.12 430.35 19.88 422.37 21.3 413.3 C22.72 404.23 24.43 391.67 25.6 380 C26.77 368.33 27.42 352.93 28.3 343.3 C29.18 333.67 29.95 328.88 30.9 322.2 C31.85 315.52 32.95 308.48 34 303.2 C35.05 297.92 35.78 293.73 37.2 290.5 C38.62 287.27 40.73 283.97 42.5 283.8 C44.27 283.63 46.22 286.27 47.8 289.5 C49.38 292.73 50.43 297.75 52 303.2 C53.57 308.65 55.45 315.52 57.2 322.2 C58.95 328.88 61.03 336.67 62.5 343.3 C63.97 349.93 64.77 355.88 66 362 C67.23 368.12 68.58 374.22 69.9 380 C71.22 385.78 72.07 391.37 73.9 396.7 C75.73 402.03 78.58 407.83 80.9 412 C83.22 416.17 85.02 418.68 87.8 421.7 C90.58 424.72 94.12 427.55 97.6 430.1 C101.08 432.65 103.3 435.15 108.7 437 C114.1 438.85 121.45 440.12 130 441.2 C138.55 442.28 150 442.9 160 443.5 C170 444.1 180.25 444.47 190 444.8 C199.75 445.13 213.75 445.38 218.5 445.5" fill="none" stroke="#3355ff" stroke-width="0.9"/>
<path d="M60 421.7 C65 426 72 431 80 431 C88 430 92 428.5 96 428.7 C102 430 110 434 122 439.8 C150 443 180 444 218 445 L218 446 L60 446Z" fill="url(#g15)" opacity="0.9"/>
<path d="M15 442.8 C16.4 439.28 20.58 428.02 23.4 421.7 C26.22 415.38 29.08 408.83 31.9 404.9 C34.72 400.97 37.48 398.82 40.3 398.1 C43.12 397.38 45.98 397.95 48.8 400.6 C51.62 403.25 55.33 410.48 57.2 414 C59.07 417.52 58.37 419.48 60 421.7 C61.63 423.92 63.98 425.67 67 427.3 C70.02 428.93 74.93 431.05 78.1 431.5 C81.27 431.95 83.22 430.47 86 430 C88.78 429.53 91.48 428.22 94.8 428.7 C98.12 429.18 101.27 431.05 105.9 432.9 C110.53 434.75 115.25 438.12 122.6 439.8 C129.95 441.48 134.1 442.13 150 443 C165.9 443.87 206.67 444.67 218 445" fill="none" stroke="#ff6655" stroke-width="0.9" stroke-dasharray="1.2 1.8" stroke-opacity="1"/>
<path d="M28.9 393.4 C29.6 397.18 31.7 413.73 33.1 416.1 C34.5 418.47 34.82 410.45 37.3 407.6 C39.78 404.75 44.1 399.23 48 399 C51.9 398.77 56.37 402.77 60.7 406.2 C65.03 409.63 70.02 416.33 74 419.6 C77.98 422.87 80.37 423.68 84.6 425.8 C88.83 427.92 91.83 429.93 99.4 432.3 C106.97 434.67 110.23 437.88 130 440 C149.77 442.12 203.33 444.17 218 445" fill="none" stroke="#aaddaa" stroke-width="0.6" stroke-dasharray="0.8 1.2" stroke-opacity="1"/>
<path d="M35.9 403.3 C36.38 406.25 37.85 417.22 38.8 421 C39.75 424.78 40.3 425.77 41.6 426 C42.9 426.23 45.18 423.93 46.6 422.4 C48.02 420.87 48.7 417.78 50.1 416.8 C51.5 415.82 53.23 416.03 55 416.5 C56.77 416.97 58.57 418.38 60.7 419.6 C62.83 420.82 65.58 422.63 67.8 423.8 C70.02 424.97 71.13 425.57 74 426.6 C76.87 427.63 80.77 429.4 85 430 C89.23 430.6 94.4 429.53 99.4 430.2 C104.4 430.87 108.23 432.37 115 434 C121.77 435.63 122.83 438.17 140 440 C157.17 441.83 205 444.17 218 445" fill="none" stroke="#4444bb" stroke-width="0.9" stroke-dasharray="1.2 1.4" stroke-opacity="1"/>
<path d="M43 408.3 C43.83 411.35 46.47 423.32 48 426.6 C49.53 429.88 50.8 426.8 52.2 428 C53.6 429.2 54.27 432.8 56.4 433.8 C58.53 434.8 61.07 433.97 65 434 C68.93 434.03 74.17 433.83 80 434 C85.83 434.17 91.67 434.17 100 435 C108.33 435.83 120 437.83 130 439 C140 440.17 145.33 441 160 442 C174.67 443 208.33 444.5 218 445" fill="none" stroke="#bb55bb" stroke-width="0.8" stroke-dasharray="2 1 0.8 1" stroke-opacity="1"/>
<path d="M58 432 C59.03 431.58 61.87 429.5 64.2 429.5 C66.53 429.5 67.7 430.92 72 432 C76.3 433.08 83.67 435 90 436 C96.33 437 101.67 437.17 110 438 C118.33 438.83 122 439.83 140 441 C158 442.17 205 444.33 218 445" fill="none" stroke="#bbbb66" stroke-width="0.8" stroke-dasharray="1 1.5" stroke-opacity="1"/>
<path d="M15 442.8 C16.67 442.33 21.48 440.87 25 440 C28.52 439.13 32.5 437.9 36.1 437.6 C39.7 437.3 41.33 437.68 46.6 438.2 C51.87 438.72 56.3 439.75 67.7 440.7 C79.1 441.65 89.87 443.1 115 443.9 C140.13 444.7 201.25 445.23 218.5 445.5" fill="none" stroke="#333" stroke-width="0.9" stroke-opacity="1"/>
<path d="M57.2 421.7 C57.37 423.28 57.5 428.38 58.2 431.2 C58.9 434.02 58.78 437.4 61.4 438.6 C64.02 439.8 69.5 438.32 73.9 438.4 C78.3 438.48 80.95 438.72 87.8 439.1 C94.65 439.48 102.97 440.05 115 440.7 C127.03 441.35 142.83 442.28 160 443 C177.17 443.72 208.33 444.67 218 445" fill="none" stroke="#4455ff" stroke-width="0.9" stroke-opacity="1"/>
<path d="M22.4 386.9 C22.57 386.73 22.97 387.38 23.4 385.9 C23.83 384.42 24.53 380.65 25 378 C25.47 375.35 25.57 374.73 26.2 370 C26.83 365.27 27.67 357.57 28.8 349.6 C29.93 341.63 31.42 330.28 33 322.2 C34.58 314.12 36.55 305.6 38.3 301.1 C40.05 296.6 41.75 295.2 43.5 295.2 C45.25 295.2 46.87 296.6 48.8 301.1 C50.73 305.6 52.98 315.17 55.1 322.2 C57.22 329.23 59.68 336.67 61.5 343.3 C63.32 349.93 64.4 355.88 66 362 C67.6 368.12 69.32 374.22 71.1 380 C72.88 385.78 74.62 391.6 76.7 396.7 C78.78 401.8 81.05 406.43 83.6 410.6 C86.15 414.77 88.98 418.22 92 421.7 C95.02 425.18 97.77 428.72 101.7 431.5 C105.63 434.28 110.88 436.67 115.6 438.4 C120.32 440.13 122.6 441 130 441.9 C137.4 442.8 150 443.32 160 443.8 C170 444.28 180.25 444.52 190 444.8 C199.75 445.08 213.75 445.38 218.5 445.5" fill="none" stroke="#ee44ee" stroke-width="0.9" stroke-opacity="1"/>
<text x="45" y="279.9" font-size="8.8" font-weight="bold" text-anchor="middle" fill="#2222ee" font-family="Liberation Sans, sans-serif">318 nm</text>
<text x="109.5" y="421.4" font-size="8.8" font-weight="bold" text-anchor="middle" fill="#ff1a1a" font-family="Liberation Sans, sans-serif">390 nm</text>
<text x="160.5" y="383.8" font-size="8" fill="#222" font-family="Liberation Sans, sans-serif"><tspan font-style="italic">λ</tspan><tspan font-size="4.96" dy="2.00">ex</tspan><tspan dy="-2.00"> (nm)</tspan></text>
<path d="M137.1 393.3H155.5" stroke="#444" stroke-width="1"/>
<text x="157.7" y="396.2" font-size="8" text-anchor="start" fill="#222" font-family="Liberation Sans, sans-serif">250</text>
<path d="M176 393.3H194.4" stroke="#ff6655" stroke-width="1" stroke-dasharray="1.2 1.6"/>
<text x="196.3" y="396.2" font-size="8" text-anchor="start" fill="#222" font-family="Liberation Sans, sans-serif">260</text>
<rect x="137.1" y="399" width="18.4" height="8.9" fill="url(#g16)" stroke="#4466ff" stroke-width="1"/>
<text x="157.7" y="406.3" font-size="8" text-anchor="start" fill="#222" font-family="Liberation Sans, sans-serif">270</text>
<path d="M176 403.4H194.4" stroke="#ee44ee" stroke-width="1"/>
<text x="196.3" y="406.3" font-size="8" text-anchor="start" fill="#222" font-family="Liberation Sans, sans-serif">280</text>
<path d="M137.1 413.5H155.5" stroke="#bbddbb" stroke-width="0.8" stroke-dasharray="0.8 1.2"/>
<text x="157.7" y="416.4" font-size="8" text-anchor="start" fill="#222" font-family="Liberation Sans, sans-serif">290</text>
<path d="M176 413.5H194.4" stroke="#4444bb" stroke-width="1" stroke-dasharray="1.2 1.6"/>
<text x="196.3" y="416.4" font-size="8" text-anchor="start" fill="#222" font-family="Liberation Sans, sans-serif">300</text>
<rect x="137.1" y="418.9" width="18.4" height="8.5" fill="url(#g17)" stroke="#ff5555" stroke-width="0.8" stroke-dasharray="1 1"/>
<text x="157.7" y="426.5" font-size="8" text-anchor="start" fill="#222" font-family="Liberation Sans, sans-serif">310</text>
<path d="M176 423.6H194.4" stroke="#bb55bb" stroke-width="1" stroke-dasharray="2 1.2 0.8 1.2"/>
<text x="196.3" y="426.5" font-size="8" text-anchor="start" fill="#222" font-family="Liberation Sans, sans-serif">320</text>
<path d="M137.1 433.7H155.5" stroke="#aab4ff" stroke-width="1.6"/>
<text x="157.7" y="436.6" font-size="8" text-anchor="start" fill="#222" font-family="Liberation Sans, sans-serif">330</text>
<path d="M176 433.7H194.4" stroke="#cccc88" stroke-width="1.2" stroke-dasharray="1 1.8"/>
<text x="196.3" y="436.6" font-size="8" text-anchor="start" fill="#222" font-family="Liberation Sans, sans-serif">340</text>
<rect x="108.6" y="248.2" width="102" height="101" fill="#fff" stroke="#bbb" stroke-width="0.8"/>
<path d="M127.6 333.3 C128 330.97 129.08 324.65 130 319.3 C130.92 313.95 132.08 307.57 133.1 301.2 C134.12 294.83 135.1 286.45 136.1 281.1 C137.1 275.75 137.93 272.12 139.1 269.1 C140.27 266.08 141.77 263.35 143.1 263 C144.43 262.65 145.93 263.98 147.1 267 C148.27 270.02 148.93 275.73 150.1 281.1 C151.27 286.47 152.42 293.18 154.1 299.2 C155.78 305.22 157.85 312.18 160.2 317.2 C162.55 322.22 164.9 325.62 168.2 329.3 C171.5 332.98 176.17 337.1 180 339.3 C183.83 341.5 186.23 341.57 191.2 342.5 C196.17 343.43 206.7 344.5 209.8 344.9 L209.8 345 L127.6 345 Z" fill="url(#g18)" stroke="none"/>
<path d="M127.6 333.3 C128 330.97 129.08 324.65 130 319.3 C130.92 313.95 132.08 307.57 133.1 301.2 C134.12 294.83 135.1 286.45 136.1 281.1 C137.1 275.75 137.93 272.12 139.1 269.1 C140.27 266.08 141.77 263.35 143.1 263 C144.43 262.65 145.93 263.98 147.1 267 C148.27 270.02 148.93 275.73 150.1 281.1 C151.27 286.47 152.42 293.18 154.1 299.2 C155.78 305.22 157.85 312.18 160.2 317.2 C162.55 322.22 164.9 325.62 168.2 329.3 C171.5 332.98 176.17 337.1 180 339.3 C183.83 341.5 186.23 341.57 191.2 342.5 C196.17 343.43 206.7 344.5 209.8 344.9" fill="none" stroke="#5566ff" stroke-width="0.6"/>
<path d="M128 333.3 C128.5 330.75 129.98 322.68 131 318 C132.02 313.32 132.92 311.02 134.1 305.2 C135.28 299.38 136.6 288.12 138.1 283.1 C139.6 278.08 141.43 275.43 143.1 275.1 C144.77 274.77 146.27 276.75 148.1 281.1 C149.93 285.45 151.42 294.17 154.1 301.2 C156.78 308.23 159.88 317.28 164.2 323.3 C168.52 329.32 174.87 334.18 180 337.3 C185.13 340.42 190.03 340.88 195 342 C199.97 343.12 207.33 343.67 209.8 344" fill="none" stroke="#333" stroke-width="0.6" stroke-opacity="1"/>
<path d="M127 326 C127.17 325.88 127.17 327.1 128 325.3 C128.83 323.5 130.65 320.22 132 315.2 C133.35 310.18 134.75 299.72 136.1 295.2 C137.45 290.68 138.43 287.77 140.1 288.1 C141.77 288.43 144.1 293.02 146.1 297.2 C148.1 301.38 149.75 308.18 152.1 313.2 C154.45 318.22 157.18 323.28 160.2 327.3 C163.22 331.32 166.9 334.62 170.2 337.3 C173.5 339.98 175.87 341.78 180 343.4 C184.13 345.02 190.03 346.73 195 347 C199.97 347.27 207.33 345.33 209.8 345" fill="none" stroke="#ff44dd" stroke-width="0.6" stroke-opacity="1"/>
<path d="M133 335 C133.83 333.67 136.15 329.45 138 327 C139.85 324.55 142.1 320.3 144.1 320.3 C146.1 320.3 147.68 324.05 150 327 C152.32 329.95 155.33 335 158 338 C160.67 341 164.67 343.83 166 345" fill="none" stroke="#cccccc" stroke-width="0.5" stroke-dasharray="0.8 1" stroke-opacity="1"/>
<path d="M160 347.5 C160.53 347.32 161.67 347.27 163.2 346.4 C164.73 345.53 167.37 342.3 169.2 342.3 C171.03 342.3 172.4 345.53 174.2 346.4 C176 347.27 179.03 347.32 180 347.5" fill="none" stroke="#ff5566" stroke-width="0.8" stroke-opacity="1"/>
<path d="M109.2 349.2v2.2 M114.2 349.2v1.3 M119.2 349.2v1.3 M124.2 349.2v1.3 M129.2 349.2v1.3 M134.2 349.2v2.2 M139.2 349.2v1.3 M144.2 349.2v1.3 M149.2 349.2v1.3 M154.2 349.2v1.3 M159.2 349.2v2.2 M164.2 349.2v1.3 M169.2 349.2v1.3 M174.2 349.2v1.3 M179.2 349.2v1.3 M184.2 349.2v2.2 M189.2 349.2v1.3 M194.2 349.2v1.3 M199.2 349.2v1.3 M204.2 349.2v1.3 M209.2 349.2v2.2" stroke="#555" stroke-width="0.6"/>
<path d="M108.6 349.2H210.6" stroke="#444" stroke-width="0.8"/>
<text x="109.2" y="358" font-size="6.6" text-anchor="middle" fill="#222" font-family="Liberation Sans, sans-serif">250</text>
<text x="134.2" y="358" font-size="6.6" text-anchor="middle" fill="#222" font-family="Liberation Sans, sans-serif">300</text>
<text x="159.2" y="358" font-size="6.6" text-anchor="middle" fill="#222" font-family="Liberation Sans, sans-serif">350</text>
<text x="184.2" y="358" font-size="6.6" text-anchor="middle" fill="#222" font-family="Liberation Sans, sans-serif">400</text>
<text x="209.2" y="358" font-size="6.6" text-anchor="middle" fill="#222" font-family="Liberation Sans, sans-serif">450</text>
<text x="159.6" y="366.9" font-size="6.6" font-weight="bold" text-anchor="middle" fill="#111" font-family="Liberation Sans, sans-serif">Wavelength (nm)</text>
<text x="184.5" y="256.9" font-size="6.6" fill="#222" font-family="Liberation Sans, sans-serif"><tspan font-style="italic">λ</tspan><tspan font-size="4.09" dy="1.65">ex</tspan><tspan dy="-1.65"> (nm)</tspan></text>
<text x="196.9" y="265.1" font-size="6.6" text-anchor="start" fill="#222" font-family="Liberation Sans, sans-serif">250</text>
<path d="M180.8 262.7H194.8" stroke="#aaa" stroke-width="0.8"/>
<text x="196.9" y="273.3" font-size="6.6" text-anchor="start" fill="#222" font-family="Liberation Sans, sans-serif">260</text>
<path d="M180.8 270.9H194.8" stroke="#ffbbbb" stroke-width="0.6" stroke-dasharray="0.8 1"/>
<text x="196.9" y="281.5" font-size="6.6" text-anchor="start" fill="#222" font-family="Liberation Sans, sans-serif">270</text>
<rect x="180.8" y="275.9" width="14" height="6.5" fill="url(#g19)" stroke="#7777ff" stroke-width="1"/>
<text x="196.9" y="289.7" font-size="6.6" text-anchor="start" fill="#222" font-family="Liberation Sans, sans-serif">280</text>
<path d="M180.8 287.3H194.8" stroke="#ff66ee" stroke-width="0.8"/>
<text x="196.9" y="297.9" font-size="6.6" text-anchor="start" fill="#222" font-family="Liberation Sans, sans-serif">290</text>
<path d="M180.8 295.5H194.8" stroke="#dddddd" stroke-width="0.6" stroke-dasharray="0.8 1"/>
<text x="196.9" y="306" font-size="6.6" text-anchor="start" fill="#222" font-family="Liberation Sans, sans-serif">300</text>
<path d="M180.8 303.6H194.8" stroke="#ddddee" stroke-width="0.6" stroke-dasharray="0.8 1"/>
<text x="196.9" y="314.2" font-size="6.6" text-anchor="start" fill="#222" font-family="Liberation Sans, sans-serif">310</text>
<path d="M180.8 311.8H194.8" stroke="#eeeeee" stroke-width="0.6" stroke-dasharray="0.8 1"/>
<text x="196.9" y="322.4" font-size="6.6" text-anchor="start" fill="#222" font-family="Liberation Sans, sans-serif">320</text>
<path d="M180.8 320H194.8" stroke="#eeeeee" stroke-width="0.6" stroke-dasharray="0.8 1"/>
<text x="196.9" y="330.5" font-size="6.6" text-anchor="start" fill="#222" font-family="Liberation Sans, sans-serif">330</text>
<path d="M180.8 328.1H194.8" stroke="#ff9999" stroke-width="0.8"/>
<text x="196.9" y="338.6" font-size="6.6" text-anchor="start" fill="#222" font-family="Liberation Sans, sans-serif">340</text>
<path d="M180.8 336.2H194.8" stroke="#dddddd" stroke-width="0.6" stroke-dasharray="0.8 1"/>
<path d="M248.8 385.1 C249.37 382.58 251.2 373.75 252.2 370 C253.2 366.25 253.92 366.25 254.8 362.6 C255.68 358.95 256.17 354.75 257.5 348.1 C258.83 341.45 261.22 330.45 262.8 322.7 C264.38 314.95 265.6 307.22 267 301.6 C268.4 295.98 269.8 292.33 271.2 289 C272.6 285.67 273.82 283.18 275.4 281.6 C276.98 280.02 278.77 279.32 280.7 279.5 C282.63 279.68 285.07 280.77 287 282.7 C288.93 284.63 290.37 287.23 292.3 291.1 C294.23 294.97 296.48 300.63 298.6 305.9 C300.72 311.17 302.88 317.35 305 322.7 C307.12 328.05 308.77 332.1 311.3 338 C313.83 343.9 317.2 351.75 320.2 358.1 C323.2 364.45 326.28 371.22 329.3 376.1 C332.32 380.98 335.68 384.25 338.3 387.4 C340.92 390.55 342.88 392.53 345 395 C347.12 397.47 348.17 398.87 351 402.2 C353.83 405.53 357.72 411.48 362 415 C366.28 418.52 371.2 420.7 376.7 423.3 C382.2 425.9 387.35 428.62 395 430.6 C402.65 432.58 413.1 434 422.6 435.2 C432.1 436.4 447.1 437.37 452 437.8 L452 446 L248.8 446 Z" fill="url(#g20)" stroke="none"/>
<path d="M248.8 385.1 C249.37 382.58 251.2 373.75 252.2 370 C253.2 366.25 253.92 366.25 254.8 362.6 C255.68 358.95 256.17 354.75 257.5 348.1 C258.83 341.45 261.22 330.45 262.8 322.7 C264.38 314.95 265.6 307.22 267 301.6 C268.4 295.98 269.8 292.33 271.2 289 C272.6 285.67 273.82 283.18 275.4 281.6 C276.98 280.02 278.77 279.32 280.7 279.5 C282.63 279.68 285.07 280.77 287 282.7 C288.93 284.63 290.37 287.23 292.3 291.1 C294.23 294.97 296.48 300.63 298.6 305.9 C300.72 311.17 302.88 317.35 305 322.7 C307.12 328.05 308.77 332.1 311.3 338 C313.83 343.9 317.2 351.75 320.2 358.1 C323.2 364.45 326.28 371.22 329.3 376.1 C332.32 380.98 335.68 384.25 338.3 387.4 C340.92 390.55 342.88 392.53 345 395 C347.12 397.47 348.17 398.87 351 402.2 C353.83 405.53 357.72 411.48 362 415 C366.28 418.52 371.2 420.7 376.7 423.3 C382.2 425.9 387.35 428.62 395 430.6 C402.65 432.58 413.1 434 422.6 435.2 C432.1 436.4 447.1 437.37 452 437.8" fill="none" stroke="#ff2a2a" stroke-width="0.9"/>
<path d="M248.8 443 C250.67 442.67 254.8 441.58 260 441 C265.2 440.42 273.33 439.58 280 439.5 C286.67 439.42 291.67 439.92 300 440.5 C308.33 441.08 316.67 442.33 330 443 C343.33 443.67 359.67 444.13 380 444.5 C400.33 444.87 440 445.08 452 445.2" fill="none" stroke="#ff44ff" stroke-width="0.9" stroke-opacity="1"/>
<path d="M248.8 443 C250.67 442.5 254.48 440.92 260 440 C265.52 439.08 275.23 437.75 281.9 437.5 C288.57 437.25 291.98 437.83 300 438.5 C308.02 439.17 316.67 440.67 330 441.5 C343.33 442.33 359.67 442.92 380 443.5 C400.33 444.08 440 444.75 452 445" fill="none" stroke="#bbbb55" stroke-width="0.8" stroke-dasharray="1 1.8" stroke-opacity="1"/>
<path d="M248.8 444.5 C251.5 444.29 259.47 443.58 265 443.25 C270.53 442.92 274.5 442.5 282 442.5 C289.5 442.5 298.67 443 310 443.25 C321.33 443.5 326.33 443.66 350 444 C373.67 444.34 435 445.08 452 445.3" fill="none" stroke="#66aa66" stroke-width="0.8" stroke-opacity="1"/>
<path d="M248.8 444.5 C251.5 444.32 259.47 443.68 265 443.4 C270.53 443.12 274.5 442.78 282 442.8 C289.5 442.82 298.67 443.3 310 443.5 C321.33 443.7 326.33 443.7 350 444 C373.67 444.3 435 445.08 452 445.3" fill="none" stroke="#8866cc" stroke-width="0.8" stroke-dasharray="1 1" stroke-opacity="1"/>
<path d="M248.8 444.5 C251.5 444.27 259.47 443.48 265 443.1 C270.53 442.72 274.5 442.22 282 442.2 C289.5 442.18 298.67 442.7 310 443 C321.33 443.3 326.33 443.62 350 444 C373.67 444.38 435 445.08 452 445.3" fill="none" stroke="#cc88ff" stroke-width="0.8" stroke-dasharray="1 1" stroke-opacity="1"/>
<path d="M248.8 444.5 C251.5 444.34 259.47 443.78 265 443.55 C270.53 443.32 274.5 443.07 282 443.1 C289.5 443.13 298.67 443.6 310 443.75 C321.33 443.9 326.33 443.74 350 444 C373.67 444.26 435 445.08 452 445.3" fill="none" stroke="#ff88aa" stroke-width="0.8" stroke-dasharray="1.5 1" stroke-opacity="1"/>
<path d="M248.8 444.5 C251.5 444.38 259.47 443.92 265 443.76 C270.53 443.6 274.5 443.46 282 443.52 C289.5 443.58 298.67 444.02 310 444.1 C321.33 444.18 326.33 443.8 350 444 C373.67 444.2 435 445.08 452 445.3" fill="none" stroke="#333" stroke-width="0.8" stroke-opacity="1"/>
<path d="M248.8 426.9 C250.55 425.2 255.67 419.33 259.3 416.7 C262.93 414.07 267.22 412.42 270.6 411.1 C273.98 409.78 275.85 408.23 279.6 408.8 C283.35 409.37 287.83 412.05 293.1 414.5 C298.37 416.95 304.42 420.87 311.2 423.5 C317.98 426.13 327.67 428.78 333.8 430.3 C339.93 431.82 340.85 431.47 348 432.6 C355.15 433.73 365.8 435.58 376.7 437.1 C387.6 438.62 400.85 440.78 413.4 441.7 C425.95 442.62 445.57 442.45 452 442.6" fill="none" stroke="#ff9a40" stroke-width="0.9" stroke-dasharray="2 1.2 0.8 1.2" stroke-opacity="1"/>
<path d="M248.8 407.7 C250.17 404.7 254.12 395.33 257 389.7 C259.88 384.07 263.08 378.12 266.1 373.9 C269.12 369.68 272.47 366.28 275.1 364.4 C277.73 362.52 279.27 362.33 281.9 362.6 C284.53 362.87 287.52 363.37 290.9 366 C294.28 368.63 298.07 373.7 302.2 378.4 C306.33 383.1 311.57 389.88 315.7 394.2 C319.83 398.52 323.23 401.67 327 404.3 C330.77 406.93 334.3 407.6 338.3 410 C342.3 412.4 346.13 415.72 351 418.7 C355.87 421.68 360.17 425.3 367.5 427.9 C374.83 430.5 385.82 432.62 395 434.3 C404.18 435.98 413.1 437.18 422.6 438 C432.1 438.82 447.1 439 452 439.2" fill="none" stroke="#4455ff" stroke-width="0.9" stroke-opacity="1"/>
<text x="282.2" y="276.3" font-size="8.8" font-weight="bold" text-anchor="middle" fill="#2222ee" font-family="Liberation Sans, sans-serif">315 nm</text>
<text x="403.5" y="375.6" font-size="8" fill="#222" font-family="Liberation Sans, sans-serif"><tspan font-style="italic">f</tspan><tspan font-size="4.96" dy="2.00" font-style="italic">w</tspan><tspan dy="-2.00"> (vol%)</tspan></text>
<rect x="386.8" y="379.3" width="17.8" height="9.1" fill="url(#g21)" stroke="#ff3333" stroke-width="1"/>
<text x="407.5" y="386.8" font-size="8" text-anchor="start" fill="#222" font-family="Liberation Sans, sans-serif">90</text>
<path d="M420.7 383.9H439.1" stroke="#4455ff" stroke-width="1"/>
<text x="441.3" y="386.8" font-size="8" text-anchor="start" fill="#222" font-family="Liberation Sans, sans-serif">80</text>
<path d="M386.8 394H404.6" stroke="#ff9a40" stroke-width="1" stroke-dasharray="2 1.2 0.8 1.2"/>
<text x="407.5" y="396.9" font-size="8" text-anchor="start" fill="#222" font-family="Liberation Sans, sans-serif">70</text>
<path d="M420.7 394H439.1" stroke="#aaaa55" stroke-width="1" stroke-dasharray="2 1.2 0.8 1.2"/>
<text x="441.3" y="396.9" font-size="8" text-anchor="start" fill="#222" font-family="Liberation Sans, sans-serif">60</text>
<path d="M386.8 404.1H404.6" stroke="#ff44ff" stroke-width="1"/>
<text x="407.5" y="407" font-size="8" text-anchor="start" fill="#222" font-family="Liberation Sans, sans-serif">50</text>
<path d="M420.7 404.1H439.1" stroke="#7766cc" stroke-width="1" stroke-dasharray="1 1.2"/>
<text x="441.3" y="407" font-size="8" text-anchor="start" fill="#222" font-family="Liberation Sans, sans-serif">40</text>
<path d="M386.8 414.2H404.6" stroke="#66aa66" stroke-width="1"/>
<text x="407.5" y="417.1" font-size="8" text-anchor="start" fill="#222" font-family="Liberation Sans, sans-serif">30</text>
<path d="M420.7 414.2H439.1" stroke="#cc88ff" stroke-width="1.1" stroke-dasharray="1 1.2"/>
<text x="441.3" y="417.1" font-size="8" text-anchor="start" fill="#222" font-family="Liberation Sans, sans-serif">20</text>
<path d="M386.8 424.4H404.6" stroke="#ff88bb" stroke-width="1" stroke-dasharray="2 1.2 0.8 1.2"/>
<text x="407.5" y="427.3" font-size="8" text-anchor="start" fill="#222" font-family="Liberation Sans, sans-serif">10</text>
<path d="M420.7 424.4H439.1" stroke="#333" stroke-width="1"/>
<text x="441.3" y="427.3" font-size="8" text-anchor="start" fill="#222" font-family="Liberation Sans, sans-serif">0</text>
<rect x="330.6" y="249.2" width="101.9" height="101.3" fill="#fff"/>
<path d="M330.6 249.2H432.5V350.5" fill="none" stroke="#999" stroke-width="0.8"/>
<path d="M330.6 249.2V350.5" stroke="#3344ee" stroke-width="0.9"/>
<path d="M330.6 350.5H432.5" stroke="#333" stroke-width="0.9"/>
<path d="M330.6 347.4h-3.2 M330.6 339.21h-1.8 M330.6 331.02h-1.8 M330.6 322.82h-1.8 M330.6 314.63h-3.2 M330.6 306.44h-1.8 M330.6 298.25h-1.8 M330.6 290.06h-1.8 M330.6 281.87h-3.2 M330.6 273.68h-1.8 M330.6 265.48h-1.8 M330.6 257.29h-1.8 M330.6 249.1h-3.2" stroke="#3344ee" stroke-width="0.6"/>
<path d="M335.6 350.5v2 M345.29 350.5v1.2 M354.98 350.5v2 M364.67 350.5v1.2 M374.36 350.5v2 M384.05 350.5v1.2 M393.74 350.5v2 M403.43 350.5v1.2 M413.12 350.5v2 M422.81 350.5v1.2 M432.5 350.5v2" stroke="#333" stroke-width="0.6"/>
<text x="325.4" y="349.7" font-size="6.6" text-anchor="end" fill="#3344ee" font-family="Liberation Sans, sans-serif">0</text>
<text x="325.4" y="316.93" font-size="6.6" text-anchor="end" fill="#3344ee" font-family="Liberation Sans, sans-serif">20</text>
<text x="325.4" y="284.17" font-size="6.6" text-anchor="end" fill="#3344ee" font-family="Liberation Sans, sans-serif">40</text>
<text x="325.4" y="251.4" font-size="6.6" text-anchor="end" fill="#3344ee" font-family="Liberation Sans, sans-serif">60</text>
<text x="335.6" y="361.3" font-size="6.3" text-anchor="middle" fill="#222" font-family="Liberation Sans, sans-serif">0</text>
<text x="354.98" y="361.3" font-size="6.3" text-anchor="middle" fill="#222" font-family="Liberation Sans, sans-serif">20</text>
<text x="374.36" y="361.3" font-size="6.3" text-anchor="middle" fill="#222" font-family="Liberation Sans, sans-serif">40</text>
<text x="393.74" y="361.3" font-size="6.3" text-anchor="middle" fill="#222" font-family="Liberation Sans, sans-serif">60</text>
<text x="413.12" y="361.3" font-size="6.3" text-anchor="middle" fill="#222" font-family="Liberation Sans, sans-serif">80</text>
<text x="432.5" y="361.3" font-size="6.3" text-anchor="middle" fill="#222" font-family="Liberation Sans, sans-serif">100</text>
<text x="381.5" y="368.3" font-size="6.5" font-weight="bold" text-anchor="middle" fill="#222" font-family="Liberation Sans, sans-serif"><tspan font-style="italic">f</tspan><tspan font-size="4.2" dy="1.6" font-style="italic">w</tspan><tspan dy="-1.6"> (vol%)</tspan></text>
<text transform="translate(313,298) rotate(-90)" font-size="6.5" font-weight="bold" font-style="italic" text-anchor="middle" fill="#3344ee" font-family="Liberation Sans, sans-serif">I/I<tspan font-size="4.2" dy="1.5">0</tspan></text>
<path d="M335.6 346.2 C338.83 346.08 348.43 345.78 355 345.5 C361.57 345.22 369.17 344.92 375 344.5 C380.83 344.08 386.5 343.75 390 343 C393.5 342.25 393.8 342.37 396 340 C398.2 337.63 400.43 334.8 403.2 328.8 C405.97 322.8 410.13 311.8 412.6 304 C415.07 296.2 416.35 290.53 418 282 C419.65 273.47 421.75 257.67 422.5 252.8" fill="none" stroke="#3344ee" stroke-width="0.8" stroke-opacity="1"/>
<rect x="334.1" y="344.5" width="3" height="3" fill="#2244ee"/>
<rect x="343.79" y="344.2" width="3" height="3" fill="#2244ee"/>
<rect x="353.48" y="343.9" width="3" height="3" fill="#2244ee"/>
<rect x="363.17" y="343.3" width="3" height="3" fill="#2244ee"/>
<rect x="372.86" y="342.8" width="3" height="3" fill="#2244ee"/>
<rect x="382.55" y="341.9" width="3" height="3" fill="#2244ee"/>
<rect x="392.24" y="341.1" width="3" height="3" fill="#2244ee"/>
<rect x="401.93" y="326.8" width="3" height="3" fill="#2244ee"/>
<rect x="411.62" y="302.9" width="3" height="3" fill="#2244ee"/>
<rect x="421.31" y="251.3" width="3" height="3" fill="#2244ee"/>
<path d="M355.6 256.5H368.4" stroke="#3344ee" stroke-width="0.8"/><rect x="360.6" y="255.1" width="2.8" height="2.8" fill="#2244ee"/>
<text x="370.4" y="258.8" font-size="6" text-anchor="start" fill="#222" font-family="Liberation Sans, sans-serif">315 nm</text>
<path d="M481 445.5 C481.65 444.35 483.63 442.22 484.9 438.6 C486.17 434.98 487.57 431.62 488.6 423.8 C489.63 415.98 490.27 403.22 491.1 391.7 C491.93 380.18 492.98 364.98 493.6 354.7 C494.22 344.42 494.53 335.65 494.8 330 C495.07 324.35 494.85 325.15 495.2 320.8 C495.55 316.45 496.33 308.4 496.9 303.9 C497.47 299.4 497.9 296.9 498.6 293.8 C499.3 290.7 500.12 287.7 501.1 285.3 C502.08 282.9 503.38 279.4 504.5 279.4 C505.62 279.4 506.82 282.9 507.8 285.3 C508.78 287.7 509.55 290.13 510.4 293.8 C511.25 297.47 512.07 302.25 512.9 307.3 C513.73 312.35 514.57 318.65 515.4 324.1 C516.23 329.55 517.1 334.33 517.9 340 C518.7 345.67 519.27 351.33 520.2 358.1 C521.13 364.87 522.18 373.45 523.5 380.6 C524.82 387.75 526.22 394.6 528.1 401 C529.98 407.4 532.17 414.3 534.8 419 C537.43 423.7 540.52 426.57 543.9 429.2 C547.28 431.83 550.75 433.12 555.1 434.8 C559.45 436.48 562.52 437.88 570 439.3 C577.48 440.72 588.33 442.38 600 443.3 C611.67 444.22 626 444.43 640 444.8 C654 445.17 676.67 445.38 684 445.5 L684 446 L481 446 Z" fill="url(#g22)" stroke="none"/>
<path d="M481 445.5 C481.65 444.35 483.63 442.22 484.9 438.6 C486.17 434.98 487.57 431.62 488.6 423.8 C489.63 415.98 490.27 403.22 491.1 391.7 C491.93 380.18 492.98 364.98 493.6 354.7 C494.22 344.42 494.53 335.65 494.8 330 C495.07 324.35 494.85 325.15 495.2 320.8 C495.55 316.45 496.33 308.4 496.9 303.9 C497.47 299.4 497.9 296.9 498.6 293.8 C499.3 290.7 500.12 287.7 501.1 285.3 C502.08 282.9 503.38 279.4 504.5 279.4 C505.62 279.4 506.82 282.9 507.8 285.3 C508.78 287.7 509.55 290.13 510.4 293.8 C511.25 297.47 512.07 302.25 512.9 307.3 C513.73 312.35 514.57 318.65 515.4 324.1 C516.23 329.55 517.1 334.33 517.9 340 C518.7 345.67 519.27 351.33 520.2 358.1 C521.13 364.87 522.18 373.45 523.5 380.6 C524.82 387.75 526.22 394.6 528.1 401 C529.98 407.4 532.17 414.3 534.8 419 C537.43 423.7 540.52 426.57 543.9 429.2 C547.28 431.83 550.75 433.12 555.1 434.8 C559.45 436.48 562.52 437.88 570 439.3 C577.48 440.72 588.33 442.38 600 443.3 C611.67 444.22 626 444.43 640 444.8 C654 445.17 676.67 445.38 684 445.5" fill="none" stroke="#44aa44" stroke-width="0.9"/>
<path d="M481 445.5 C481.65 444.35 483.63 442.22 484.9 438.6 C486.17 434.98 487.57 431.62 488.6 423.8 C489.63 415.98 490.27 403.22 491.1 391.7 C491.93 380.18 492.98 364.98 493.6 354.7 C494.22 344.42 494.6 334.12 494.8 330" fill="none" stroke="#ff4455" stroke-width="0.9" stroke-opacity="1"/>
<path d="M499.4 304.7 C499.83 304 501.15 301.42 502 300.5 C502.85 299.58 503.67 298.87 504.5 299.2 C505.33 299.53 506.17 300.6 507 302.5 C507.83 304.4 508.37 306.43 509.5 310.6 C510.63 314.77 512.63 322.6 513.8 327.5 C514.97 332.4 515.58 334.92 516.5 340 C517.42 345.08 518.25 351.23 519.3 358 C520.35 364.77 521.43 373.35 522.8 380.6 C524.17 387.85 525.55 395.02 527.5 401.5 C529.45 407.98 531.77 414.78 534.5 419.5 C537.23 424.22 540.47 427.17 543.9 429.8 C547.33 432.43 550.75 433.63 555.1 435.3 C559.45 436.97 562.52 438.42 570 439.8 C577.48 441.18 581 442.65 600 443.6 C619 444.55 670 445.18 684 445.5" fill="none" stroke="#333399" stroke-width="0.9" stroke-opacity="1"/>
<path d="M505.8 416.9 C507.02 416.53 510.42 414.45 513.1 414.7 C515.78 414.95 518 417.07 521.9 418.4 C525.8 419.73 532.82 422.43 536.5 422.7 C540.18 422.97 541.57 420.85 544 420 C546.43 419.15 549.1 417.85 551.1 417.6 C553.1 417.35 554.3 418.02 556 418.5 C557.7 418.98 558.47 418.82 561.3 420.5 C564.13 422.18 569.05 426.18 573 428.6 C576.95 431.02 580.5 433.05 585 435 C589.5 436.95 590.83 438.8 600 440.3 C609.17 441.8 626 443.18 640 444 C654 444.82 676.67 445 684 445.2" fill="none" stroke="#ffa8ff" stroke-width="0.8" stroke-opacity="1"/>
<path d="M512.4 422.7 C513.5 423.07 514.98 424.53 519 424.9 C523.02 425.27 532.37 425.5 536.5 424.9 C540.63 424.3 541.37 422.38 543.8 421.3 C546.23 420.22 548.73 418.62 551.1 418.4 C553.47 418.18 555.52 418.9 558 420 C560.48 421.1 562.67 423 566 425 C569.33 427 572.33 429.5 578 432 C583.67 434.5 582.33 437.83 600 440 C617.67 442.17 670 444.17 684 445" fill="none" stroke="#55e0f5" stroke-width="0.8" stroke-opacity="1"/>
<path d="M519 422.7 C520.22 423.32 522.9 426.03 526.3 426.4 C529.7 426.77 536.28 425.88 539.4 424.9 C542.52 423.92 543.05 421.78 545 420.5 C546.95 419.22 548.87 417.43 551.1 417.2 C553.33 416.97 555.23 417.57 558.4 419.1 C561.57 420.63 565.67 424.08 570.1 426.4 C574.53 428.72 580.02 430.93 585 433 C589.98 435.07 590.83 437.05 600 438.8 C609.17 440.55 626 442.43 640 443.5 C654 444.57 676.67 444.92 684 445.2" fill="none" stroke="#ee55ee" stroke-width="0.8" stroke-opacity="1"/>
<path d="M525.5 427.1 C526.6 427.58 529.05 430.37 532.1 430 C535.15 429.63 540.65 426.15 543.8 424.9 C546.95 423.65 548.57 423.1 551 422.5 C553.43 421.9 555.95 421.02 558.4 421.3 C560.85 421.58 562.93 422.75 565.7 424.2 C568.47 425.65 569.28 427.45 575 430 C580.72 432.55 581.83 437 600 439.5 C618.17 442 670 444.08 684 445" fill="none" stroke="#777" stroke-width="0.7" stroke-opacity="1"/>
<path d="M533.6 430 C534.57 429.63 536.48 428.17 539.4 427.8 C542.32 427.43 546.72 427.8 551.1 427.8 C555.48 427.8 562.05 427.07 565.7 427.8 C569.35 428.53 568.95 430.5 573 432.2 C577.05 433.9 582.17 436.28 590 438 C597.83 439.72 604.33 441.33 620 442.5 C635.67 443.67 673.33 444.58 684 445" fill="none" stroke="#999950" stroke-width="0.7" stroke-opacity="1"/>
<path d="M538 428.6 C540.18 428.47 546.97 427.68 551.1 427.8 C555.23 427.92 558.67 428.2 562.8 429.3 C566.93 430.4 569.7 432.53 575.9 434.4 C582.1 436.27 581.98 438.68 600 440.5 C618.02 442.32 670 444.5 684 445.3" fill="none" stroke="#333399" stroke-width="0.7" stroke-opacity="1"/>
<text x="506.2" y="273.8" font-size="8.8" font-weight="bold" text-anchor="middle" fill="#2222ee" font-family="Liberation Sans, sans-serif">308 nm</text>
<text x="557.5" y="412" font-size="8.8" font-weight="bold" text-anchor="middle" fill="#ff1a1a" font-family="Liberation Sans, sans-serif">390 nm</text>
<path d="M626.9 257.2 L635.39 262.1 L635.39 271.9 L626.9 276.8 L618.41 271.9 L618.41 262.1Z M627.69 259.81 L632.73 262.72 M632.73 271.28 L627.69 274.19 M620.28 269.9 L620.28 264.1" fill="none" stroke="#333" stroke-width="0.85" stroke-linejoin="round"/>
<path d="M601.6 271.3 L610.09 276.2 L610.09 286 L601.6 290.9 L593.11 286 L593.11 276.2Z M602.39 273.91 L607.43 276.82 M607.43 285.38 L602.39 288.29 M594.98 284 L594.98 278.2" fill="none" stroke="#333" stroke-width="0.85" stroke-linejoin="round"/>
<path d="M648.5 265.2 L656.99 270.1 L656.99 279.9 L648.5 284.8 L640.01 279.9 L640.01 270.1Z M642.67 270.72 L647.71 267.81 M655.12 272.1 L655.12 277.9 M647.71 282.19 L642.67 279.28" fill="none" stroke="#333" stroke-width="0.85" stroke-linejoin="round"/>
<path d="M648.2 294.4 L656.69 299.3 L656.69 309.1 L648.2 314 L639.71 309.1 L639.71 299.3Z M648.99 297.01 L654.03 299.92 M654.03 308.48 L648.99 311.39 M641.58 307.1 L641.58 301.3" fill="none" stroke="#333" stroke-width="0.85" stroke-linejoin="round"/>
<path d="M604.9 294.4 L613.39 299.3 L613.39 309.1 L604.9 314 L596.41 309.1 L596.41 299.3Z M599.07 299.92 L604.11 297.01 M611.52 301.3 L611.52 307.1 M604.11 311.39 L599.07 308.48" fill="none" stroke="#333" stroke-width="0.85" stroke-linejoin="round"/>
<path d="M630.3 308.9 L638.79 313.8 L638.79 323.6 L630.3 328.5 L621.81 323.6 L621.81 313.8Z M624.47 314.42 L629.51 311.51 M636.92 315.8 L636.92 321.6 M629.51 325.89 L624.47 322.98" fill="none" stroke="#333" stroke-width="0.85" stroke-linejoin="round"/>
<path d="M626.9 276.8 L626.8 292.3" stroke="#333" stroke-width="0.85"/>
<path d="M626.8 292.3 L613.39 299.3" stroke="#333" stroke-width="0.85"/>
<path d="M626.8 292.3 L639.71 299.3" stroke="#333" stroke-width="0.85"/>
<path d="M618.41 271.9 L610.09 276.2" stroke="#333" stroke-width="0.85"/>
<path d="M648.5 284.8 L648.2 294.4" stroke="#333" stroke-width="0.85"/>
<path d="M613.39 309.1 L621.81 313.8" stroke="#333" stroke-width="0.85"/>
<text x="606.3" y="338.2" font-size="10" fill="#222" font-family="Liberation Sans, sans-serif"><tspan font-style="italic">o</tspan>-TBPM</text>
<text x="624.5" y="370.8" font-size="8.5" fill="#222" font-family="Liberation Sans, sans-serif"><tspan font-style="italic">λ</tspan><tspan font-size="5.27" dy="2.12">ex</tspan><tspan dy="-2.12"> (nm)</tspan></text>
<path d="M602.7 382.7H620.9" stroke="#555" stroke-width="1.1"/>
<text x="623.6" y="385.6" font-size="8" text-anchor="start" fill="#222" font-family="Liberation Sans, sans-serif">250</text>
<rect x="641.5" y="378.4" width="18.2" height="8.7" fill="url(#g23)" stroke="#ff5555" stroke-width="1"/>
<text x="662.5" y="385.6" font-size="8" text-anchor="start" fill="#222" font-family="Liberation Sans, sans-serif">260</text>
<path d="M602.7 392.8H620.9" stroke="#77ee77" stroke-width="1.1"/>
<text x="623.6" y="395.7" font-size="8" text-anchor="start" fill="#222" font-family="Liberation Sans, sans-serif">270</text>
<path d="M641.5 392.8H659.7" stroke="#9999ff" stroke-width="1.1"/>
<text x="662.5" y="395.7" font-size="8" text-anchor="start" fill="#222" font-family="Liberation Sans, sans-serif">280</text>
<path d="M602.7 402.9H620.9" stroke="#ffaaff" stroke-width="1.1"/>
<text x="623.6" y="405.8" font-size="8" text-anchor="start" fill="#222" font-family="Liberation Sans, sans-serif">290</text>
<rect x="641.5" y="398.1" width="18.2" height="9.1" fill="url(#g24)" stroke="#44e0f0" stroke-width="0.9"/>
<text x="662.5" y="405.8" font-size="8" text-anchor="start" fill="#222" font-family="Liberation Sans, sans-serif">300</text>
<path d="M602.7 413.1H620.9" stroke="#ff55ff" stroke-width="1.1"/>
<text x="623.6" y="416" font-size="8" text-anchor="start" fill="#222" font-family="Liberation Sans, sans-serif">310</text>
<path d="M641.5 413.1H659.7" stroke="#888" stroke-width="1.1"/>
<text x="662.5" y="416" font-size="8" text-anchor="start" fill="#222" font-family="Liberation Sans, sans-serif">320</text>
<path d="M602.7 423.3H620.9" stroke="#999955" stroke-width="1.1"/>
<text x="623.6" y="426.2" font-size="8" text-anchor="start" fill="#222" font-family="Liberation Sans, sans-serif">330</text>
<path d="M641.5 423.3H659.7" stroke="#333399" stroke-width="1.1"/>
<text x="662.5" y="426.2" font-size="8" text-anchor="start" fill="#222" font-family="Liberation Sans, sans-serif">340</text>
<rect x="15" y="0.5" width="203.7" height="203.5" fill="none" stroke="#333" stroke-width="1"/>
<path d="M15 204v2 M22.02 204v2 M29.05 204v3.5 M36.07 204v2 M43.1 204v2 M50.12 204v2 M57.14 204v2 M64.17 204v3.5 M71.19 204v2 M78.22 204v2 M85.24 204v2 M92.27 204v2 M99.29 204v3.5 M106.31 204v2 M113.34 204v2 M120.36 204v2 M127.39 204v2 M134.41 204v3.5 M141.43 204v2 M148.46 204v2 M155.48 204v2 M162.51 204v2 M169.53 204v3.5 M176.56 204v2 M183.58 204v2 M190.6 204v2 M197.63 204v2 M204.65 204v3.5 M211.68 204v2 M218.7 204v2" stroke="#333" stroke-width="0.8"/>
<text x="29.05" y="217" font-size="9" text-anchor="middle" fill="#222" font-family="Liberation Sans, sans-serif">300</text>
<text x="64.17" y="217" font-size="9" text-anchor="middle" fill="#222" font-family="Liberation Sans, sans-serif">350</text>
<text x="99.29" y="217" font-size="9" text-anchor="middle" fill="#222" font-family="Liberation Sans, sans-serif">400</text>
<text x="134.41" y="217" font-size="9" text-anchor="middle" fill="#222" font-family="Liberation Sans, sans-serif">450</text>
<text x="169.53" y="217" font-size="9" text-anchor="middle" fill="#222" font-family="Liberation Sans, sans-serif">500</text>
<text x="204.65" y="217" font-size="9" text-anchor="middle" fill="#222" font-family="Liberation Sans, sans-serif">550</text>
<text x="116.85" y="228.9" font-size="10.2" font-weight="bold" text-anchor="middle" fill="#111" font-family="Liberation Sans, sans-serif">Wavelength (nm)</text>
<rect x="249.4" y="0.5" width="203.2" height="203" fill="none" stroke="#333" stroke-width="1"/>
<path d="M249.4 203.5v2 M256.93 203.5v3.5 M264.45 203.5v2 M271.98 203.5v2 M279.5 203.5v2 M287.03 203.5v2 M294.56 203.5v3.5 M302.08 203.5v2 M309.61 203.5v2 M317.13 203.5v2 M324.66 203.5v2 M332.19 203.5v3.5 M339.71 203.5v2 M347.24 203.5v2 M354.76 203.5v2 M362.29 203.5v2 M369.81 203.5v3.5 M377.34 203.5v2 M384.87 203.5v2 M392.39 203.5v2 M399.92 203.5v2 M407.44 203.5v3.5 M414.97 203.5v2 M422.5 203.5v2 M430.02 203.5v2 M437.55 203.5v2 M445.07 203.5v3.5 M452.6 203.5v2" stroke="#333" stroke-width="0.8"/>
<text x="256.93" y="217.3" font-size="9" text-anchor="middle" fill="#222" font-family="Liberation Sans, sans-serif">300</text>
<text x="294.56" y="217.3" font-size="9" text-anchor="middle" fill="#222" font-family="Liberation Sans, sans-serif">350</text>
<text x="332.19" y="217.3" font-size="9" text-anchor="middle" fill="#222" font-family="Liberation Sans, sans-serif">400</text>
<text x="369.81" y="217.3" font-size="9" text-anchor="middle" fill="#222" font-family="Liberation Sans, sans-serif">450</text>
<text x="407.44" y="217.3" font-size="9" text-anchor="middle" fill="#222" font-family="Liberation Sans, sans-serif">500</text>
<text x="445.07" y="217.3" font-size="9" text-anchor="middle" fill="#222" font-family="Liberation Sans, sans-serif">550</text>
<text x="351" y="228.5" font-size="10.2" font-weight="bold" text-anchor="middle" fill="#111" font-family="Liberation Sans, sans-serif">Wavelength (nm)</text>
<rect x="480.4" y="0.5" width="203.1" height="203.5" fill="none" stroke="#333" stroke-width="1"/>
<path d="M480.4 204v2 M486.95 204v2 M493.5 204v2 M500.05 204v3.5 M506.61 204v2 M513.16 204v2 M519.71 204v2 M526.26 204v2 M532.81 204v3.5 M539.36 204v2 M545.92 204v2 M552.47 204v2 M559.02 204v2 M565.57 204v3.5 M572.12 204v2 M578.67 204v2 M585.23 204v2 M591.78 204v2 M598.33 204v3.5 M604.88 204v2 M611.43 204v2 M617.98 204v2 M624.54 204v2 M631.09 204v3.5 M637.64 204v2 M644.19 204v2 M650.74 204v2 M657.29 204v2 M663.85 204v3.5 M670.4 204v2 M676.95 204v2 M683.5 204v2" stroke="#333" stroke-width="0.8"/>
<text x="500.05" y="215.7" font-size="9" text-anchor="middle" fill="#222" font-family="Liberation Sans, sans-serif">300</text>
<text x="532.81" y="215.7" font-size="9" text-anchor="middle" fill="#222" font-family="Liberation Sans, sans-serif">350</text>
<text x="565.57" y="215.7" font-size="9" text-anchor="middle" fill="#222" font-family="Liberation Sans, sans-serif">400</text>
<text x="598.33" y="215.7" font-size="9" text-anchor="middle" fill="#222" font-family="Liberation Sans, sans-serif">450</text>
<text x="631.09" y="215.7" font-size="9" text-anchor="middle" fill="#222" font-family="Liberation Sans, sans-serif">500</text>
<text x="663.85" y="215.7" font-size="9" text-anchor="middle" fill="#222" font-family="Liberation Sans, sans-serif">550</text>
<text x="581.95" y="228.6" font-size="10.2" font-weight="bold" text-anchor="middle" fill="#111" font-family="Liberation Sans, sans-serif">Wavelength (nm)</text>
<rect x="15" y="243.4" width="203.8" height="202.9" fill="none" stroke="#333" stroke-width="1"/>
<path d="M15 446.3v2 M22.03 446.3v2 M29.06 446.3v3.5 M36.08 446.3v2 M43.11 446.3v2 M50.14 446.3v2 M57.17 446.3v2 M64.19 446.3v3.5 M71.22 446.3v2 M78.25 446.3v2 M85.28 446.3v2 M92.3 446.3v2 M99.33 446.3v3.5 M106.36 446.3v2 M113.39 446.3v2 M120.41 446.3v2 M127.44 446.3v2 M134.47 446.3v3.5 M141.5 446.3v2 M148.52 446.3v2 M155.55 446.3v2 M162.58 446.3v2 M169.61 446.3v3.5 M176.63 446.3v2 M183.66 446.3v2 M190.69 446.3v2 M197.72 446.3v2 M204.74 446.3v3.5 M211.77 446.3v2 M218.8 446.3v2" stroke="#333" stroke-width="0.8"/>
<text x="29.06" y="459.8" font-size="9" text-anchor="middle" fill="#222" font-family="Liberation Sans, sans-serif">300</text>
<text x="64.19" y="459.8" font-size="9" text-anchor="middle" fill="#222" font-family="Liberation Sans, sans-serif">350</text>
<text x="99.33" y="459.8" font-size="9" text-anchor="middle" fill="#222" font-family="Liberation Sans, sans-serif">400</text>
<text x="134.47" y="459.8" font-size="9" text-anchor="middle" fill="#222" font-family="Liberation Sans, sans-serif">450</text>
<text x="169.61" y="459.8" font-size="9" text-anchor="middle" fill="#222" font-family="Liberation Sans, sans-serif">500</text>
<text x="204.74" y="459.8" font-size="9" text-anchor="middle" fill="#222" font-family="Liberation Sans, sans-serif">550</text>
<text x="116.9" y="471.3" font-size="10.2" font-weight="bold" text-anchor="middle" fill="#111" font-family="Liberation Sans, sans-serif">Wavelength (nm)</text>
<rect x="248.6" y="243.4" width="203.8" height="202.6" fill="none" stroke="#333" stroke-width="1"/>
<path d="M248.6 446v2 M261.34 446v3.5 M274.07 446v2 M286.81 446v2 M299.55 446v2 M312.29 446v2 M325.02 446v3.5 M337.76 446v2 M350.5 446v2 M363.24 446v2 M375.98 446v2 M388.71 446v3.5 M401.45 446v2 M414.19 446v2 M426.92 446v2 M439.66 446v2 M452.4 446v3.5" stroke="#333" stroke-width="0.8"/>
<text x="261.34" y="459.8" font-size="9" text-anchor="middle" fill="#222" font-family="Liberation Sans, sans-serif">300</text>
<text x="325.02" y="459.8" font-size="9" text-anchor="middle" fill="#222" font-family="Liberation Sans, sans-serif">350</text>
<text x="388.71" y="459.8" font-size="9" text-anchor="middle" fill="#222" font-family="Liberation Sans, sans-serif">400</text>
<text x="452.4" y="459.8" font-size="9" text-anchor="middle" fill="#222" font-family="Liberation Sans, sans-serif">450</text>
<text x="350.5" y="471.1" font-size="10.2" font-weight="bold" text-anchor="middle" fill="#111" font-family="Liberation Sans, sans-serif">Wavelength (nm)</text>
<rect x="480.5" y="243.4" width="203.7" height="203" fill="none" stroke="#333" stroke-width="1"/>
<path d="M480.5 446.4v2 M486.87 446.4v2 M493.23 446.4v2 M499.6 446.4v3.5 M505.96 446.4v2 M512.33 446.4v2 M518.69 446.4v2 M525.06 446.4v2 M531.42 446.4v3.5 M537.79 446.4v2 M544.16 446.4v2 M550.52 446.4v2 M556.89 446.4v2 M563.25 446.4v3.5 M569.62 446.4v2 M575.98 446.4v2 M582.35 446.4v2 M588.72 446.4v2 M595.08 446.4v3.5 M601.45 446.4v2 M607.81 446.4v2 M614.18 446.4v2 M620.54 446.4v2 M626.91 446.4v3.5 M633.28 446.4v2 M639.64 446.4v2 M646.01 446.4v2 M652.37 446.4v2 M658.74 446.4v3.5 M665.1 446.4v2 M671.47 446.4v2 M677.83 446.4v2 M684.2 446.4v2" stroke="#333" stroke-width="0.8"/>
<text x="499.6" y="458" font-size="9" text-anchor="middle" fill="#222" font-family="Liberation Sans, sans-serif">300</text>
<text x="531.42" y="458" font-size="9" text-anchor="middle" fill="#222" font-family="Liberation Sans, sans-serif">350</text>
<text x="563.25" y="458" font-size="9" text-anchor="middle" fill="#222" font-family="Liberation Sans, sans-serif">400</text>
<text x="595.08" y="458" font-size="9" text-anchor="middle" fill="#222" font-family="Liberation Sans, sans-serif">450</text>
<text x="626.91" y="458" font-size="9" text-anchor="middle" fill="#222" font-family="Liberation Sans, sans-serif">500</text>
<text x="658.74" y="458" font-size="9" text-anchor="middle" fill="#222" font-family="Liberation Sans, sans-serif">550</text>
<text x="582.35" y="470.7" font-size="10.2" font-weight="bold" text-anchor="middle" fill="#111" font-family="Liberation Sans, sans-serif">Wavelength (nm)</text>
<text transform="translate(9.2,102) rotate(-90)" x="0" y="0" font-size="10.5" font-weight="bold" text-anchor="middle" fill="#111" font-family="Liberation Sans, sans-serif">PL intensity (arb. units)</text>
<text transform="translate(241.8,102) rotate(-90)" x="0" y="0" font-size="10.5" font-weight="bold" text-anchor="middle" fill="#111" font-family="Liberation Sans, sans-serif">PL intensity (arb. units)</text>
<text transform="translate(473.9,102) rotate(-90)" x="0" y="0" font-size="10.5" font-weight="bold" text-anchor="middle" fill="#111" font-family="Liberation Sans, sans-serif">PL intensity (arb. units)</text>
<text transform="translate(9,344.9) rotate(-90)" x="0" y="0" font-size="10.5" font-weight="bold" text-anchor="middle" fill="#111" font-family="Liberation Sans, sans-serif">PL intensity (arb. units)</text>
<text transform="translate(240.3,344.9) rotate(-90)" x="0" y="0" font-size="10.5" font-weight="bold" text-anchor="middle" fill="#111" font-family="Liberation Sans, sans-serif">PL intensity (arb. units)</text>
<text transform="translate(473.9,344.9) rotate(-90)" x="0" y="0" font-size="10.5" font-weight="bold" text-anchor="middle" fill="#111" font-family="Liberation Sans, sans-serif">PL intensity (arb. units)</text>
<text x="0" y="9.8" font-size="13.5" font-weight="bold" fill="#000" font-family="Liberation Sans, sans-serif">a</text>
<text x="232.5" y="10" font-size="13.5" font-weight="bold" fill="#000" font-family="Liberation Sans, sans-serif">b</text>
<text x="464.3" y="9.8" font-size="13.5" font-weight="bold" fill="#000" font-family="Liberation Sans, sans-serif">c</text>
<text x="0" y="248.4" font-size="13.5" font-weight="bold" fill="#000" font-family="Liberation Sans, sans-serif">d</text>
<text x="232.5" y="250.6" font-size="13.5" font-weight="bold" fill="#000" font-family="Liberation Sans, sans-serif">e</text>
<text x="463.8" y="250.6" font-size="13.5" font-weight="bold" fill="#000" font-family="Liberation Sans, sans-serif">f</text>
</svg></body></html>
